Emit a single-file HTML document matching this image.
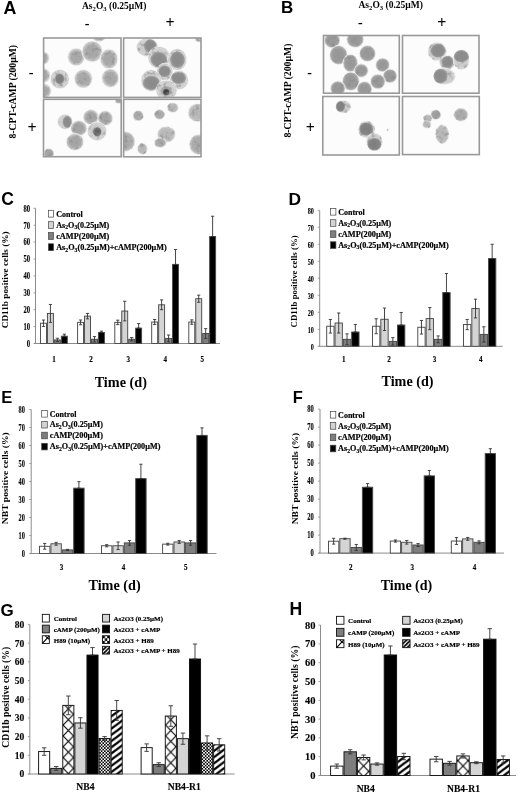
<!DOCTYPE html><html><head><meta charset="utf-8"><style>html,body{margin:0;padding:0;background:#fff;}svg{display:block;will-change:transform;}</style></head><body>
<svg width="520" height="793" viewBox="0 0 520 793">
<defs>
<pattern id="pcross" patternUnits="userSpaceOnUse" width="10" height="10.5" x="62.1" y="725.75"><rect width="10" height="10.5" fill="#fff"/><path d="M0 0L10 10.5M10 0L0 10.5" stroke="#000" stroke-width="1.1"/></pattern>
<pattern id="pcheck" patternUnits="userSpaceOnUse" width="3.2" height="3.2"><rect width="3.2" height="3.2" fill="#fff"/><rect width="1.6" height="1.6" fill="#000"/><rect x="1.6" y="1.6" width="1.6" height="1.6" fill="#000"/></pattern>
<pattern id="pdiag" patternUnits="userSpaceOnUse" width="8.27" height="6.2"><rect width="8.27" height="6.2" fill="#fff"/><path d="M-2 7.7L10.27 -1.5M-2 1.5L10.27 -7.7M-2 13.9L10.27 4.7" stroke="#000" stroke-width="2.3"/></pattern>
<radialGradient id="gc1"><stop offset="0" stop-color="#8c8c8c"/><stop offset="0.75" stop-color="#9a9a9a"/><stop offset="1" stop-color="#c4c4c4"/></radialGradient>
<radialGradient id="gc2"><stop offset="0" stop-color="#7a7a7a"/><stop offset="0.75" stop-color="#8a8a8a"/><stop offset="1" stop-color="#b8b8b8"/></radialGradient>
<radialGradient id="gc3"><stop offset="0" stop-color="#a8a8a8"/><stop offset="0.75" stop-color="#b4b4b4"/><stop offset="1" stop-color="#d8d8d8"/></radialGradient>
<radialGradient id="gc4"><stop offset="0" stop-color="#c0c0c0"/><stop offset="0.7" stop-color="#c8c8c8"/><stop offset="1" stop-color="#e4e4e4"/></radialGradient>
</defs>
<rect width="520" height="793" fill="#fff"/>
<defs><radialGradient id="g_u1"><stop offset="0" stop-color="#a6a6a6"/><stop offset="0.72" stop-color="#ababab"/><stop offset="1" stop-color="#cbcbcb"/></radialGradient><radialGradient id="g_u3"><stop offset="0" stop-color="#a2a2a2"/><stop offset="0.72" stop-color="#a8a8a8"/><stop offset="1" stop-color="#c8c8c8"/></radialGradient><radialGradient id="g_u4"><stop offset="0" stop-color="#b2b2b2"/><stop offset="0.72" stop-color="#b8b8b8"/><stop offset="1" stop-color="#d6d6d6"/></radialGradient><radialGradient id="g_ub"><stop offset="0" stop-color="#979797"/><stop offset="0.72" stop-color="#9b9b9b"/><stop offset="1" stop-color="#ababab"/></radialGradient><radialGradient id="g_cy"><stop offset="0" stop-color="#cacaca"/><stop offset="0.72" stop-color="#cdcdcd"/><stop offset="1" stop-color="#dcdcdc"/></radialGradient><radialGradient id="g_cyb"><stop offset="0" stop-color="#c4c4c4"/><stop offset="0.72" stop-color="#c8c8c8"/><stop offset="1" stop-color="#d8d8d8"/></radialGradient><radialGradient id="g_n1"><stop offset="0" stop-color="#8a8a8a"/><stop offset="0.72" stop-color="#8e8e8e"/><stop offset="1" stop-color="#a4a4a4"/></radialGradient><radialGradient id="g_n2"><stop offset="0" stop-color="#7c7c7c"/><stop offset="0.72" stop-color="#828282"/><stop offset="1" stop-color="#9c9c9c"/></radialGradient><radialGradient id="g_n3"><stop offset="0" stop-color="#606060"/><stop offset="0.72" stop-color="#686868"/><stop offset="1" stop-color="#888888"/></radialGradient><radialGradient id="g_n4"><stop offset="0" stop-color="#3a3a3a"/><stop offset="0.72" stop-color="#4a4a4a"/><stop offset="1" stop-color="#7a7a7a"/></radialGradient><radialGradient id="g_l1"><stop offset="0" stop-color="#9c9c9c"/><stop offset="0.72" stop-color="#a4a4a4"/><stop offset="1" stop-color="#c6c6c6"/></radialGradient><radialGradient id="g_l2"><stop offset="0" stop-color="#b6b6b6"/><stop offset="0.72" stop-color="#bcbcbc"/><stop offset="1" stop-color="#d8d8d8"/></radialGradient><radialGradient id="g_l3"><stop offset="0" stop-color="#a8a8a8"/><stop offset="0.72" stop-color="#aeaeae"/><stop offset="1" stop-color="#cecece"/></radialGradient><filter id="soft" x="-5%" y="-5%" width="110%" height="110%"><feGaussianBlur stdDeviation="0.45"/></filter><filter id="grain" filterUnits="userSpaceOnUse" x="0" y="0" width="520" height="170"><feTurbulence type="fractalNoise" baseFrequency="0.25" numOctaves="2" seed="11" result="t"/><feColorMatrix in="t" type="matrix" values="0 0 0 0 0.25  0 0 0 0 0.25  0 0 0 0 0.25  0 0 0 2.0 -0.98" result="d"/><feComposite in="d" in2="SourceGraphic" operator="in" result="c"/><feGaussianBlur in="c" stdDeviation="0.35"/></filter></defs>
<rect x="43.6" y="38" width="77.4" height="59.4" fill="#fcfcfc"/>
<clipPath id="cA1"><rect x="43.6" y="38" width="77.4" height="59.4"/></clipPath>
<g clip-path="url(#cA1)"><g filter="url(#soft)">
<ellipse cx="76.2" cy="57" rx="8.5" ry="8.9" fill="#cbcbcb" stroke="#f6f6f6" stroke-width="0.8"/>
<ellipse cx="76.2" cy="57" rx="7.2" ry="7.6" fill="url(#g_u1)"/>
<ellipse cx="92.2" cy="51.5" rx="10.3" ry="10.6" fill="#cbcbcb" stroke="#f6f6f6" stroke-width="0.8"/>
<ellipse cx="92.2" cy="51.5" rx="9" ry="9.3" fill="url(#g_u1)"/>
<ellipse cx="109" cy="59" rx="8.9" ry="9.9" fill="#cbcbcb" stroke="#f6f6f6" stroke-width="0.8"/>
<ellipse cx="109" cy="59" rx="7.6" ry="8.6" fill="url(#g_u1)"/>
<ellipse cx="59.8" cy="79.1" rx="9.5" ry="9.6" fill="#cbcbcb" stroke="#f6f6f6" stroke-width="0.8"/>
<ellipse cx="59.8" cy="79.1" rx="8.2" ry="8.3" fill="url(#g_cy)"/>
<ellipse cx="59.6" cy="78.8" rx="4.6" ry="5.4" fill="url(#g_n2)"/>
<ellipse cx="83.3" cy="78.8" rx="9.1" ry="9.3" fill="#cbcbcb" stroke="#f6f6f6" stroke-width="0.8"/>
<ellipse cx="83.3" cy="78.8" rx="7.8" ry="8" fill="url(#g_u1)"/>
<ellipse cx="110.3" cy="78.1" rx="8.6" ry="9.3" fill="#cbcbcb" stroke="#f6f6f6" stroke-width="0.8"/>
<ellipse cx="110.3" cy="78.1" rx="7.3" ry="8" fill="url(#g_u1)"/>
<ellipse cx="44" cy="58" rx="5.3" ry="6.3" fill="#cbcbcb" stroke="#f6f6f6" stroke-width="0.8"/>
<ellipse cx="44" cy="58" rx="4" ry="5" fill="url(#g_u1)"/>
<ellipse cx="43" cy="75.5" rx="7.3" ry="7.3" fill="#cbcbcb" stroke="#f6f6f6" stroke-width="0.8"/>
<ellipse cx="43" cy="75.5" rx="6" ry="6" fill="url(#g_u1)"/>
<ellipse cx="44" cy="91" rx="7.3" ry="7.3" fill="#cbcbcb" stroke="#f6f6f6" stroke-width="0.8"/>
<ellipse cx="44" cy="91" rx="6" ry="6" fill="url(#g_u1)"/>
<ellipse cx="99" cy="37.5" rx="6.3" ry="4.3" fill="#cbcbcb" stroke="#f6f6f6" stroke-width="0.8"/>
<ellipse cx="99" cy="37.5" rx="5" ry="3" fill="url(#g_u1)"/>
</g>
<g filter="url(#grain)">
<ellipse cx="76.2" cy="57" rx="7.2" ry="7.6" fill="#fff"/>
<ellipse cx="92.2" cy="51.5" rx="9" ry="9.3" fill="#fff"/>
<ellipse cx="109" cy="59" rx="7.6" ry="8.6" fill="#fff"/>
<ellipse cx="59.8" cy="79.1" rx="8.2" ry="8.3" fill="#fff"/>
<ellipse cx="83.3" cy="78.8" rx="7.8" ry="8" fill="#fff"/>
<ellipse cx="110.3" cy="78.1" rx="7.3" ry="8" fill="#fff"/>
<ellipse cx="44" cy="58" rx="4" ry="5" fill="#fff"/>
<ellipse cx="43" cy="75.5" rx="6" ry="6" fill="#fff"/>
<ellipse cx="44" cy="91" rx="6" ry="6" fill="#fff"/>
<ellipse cx="99" cy="37.5" rx="5" ry="3" fill="#fff"/>
</g>
</g>
<rect x="43.6" y="38" width="77.4" height="59.4" fill="none" stroke="#999" stroke-width="1.6"/>
<rect x="123.6" y="38" width="77.4" height="59.4" fill="#fcfcfc"/>
<clipPath id="cA2"><rect x="123.6" y="38" width="77.4" height="59.4"/></clipPath>
<g clip-path="url(#cA2)"><g filter="url(#soft)">
<ellipse cx="147.3" cy="47.3" rx="10.8" ry="9.2" fill="#c6c6c6" stroke="#f6f6f6" stroke-width="0.8"/>
<ellipse cx="147.3" cy="47.3" rx="9.8" ry="8.2" fill="url(#g_cy)"/>
<ellipse cx="150.4" cy="46.2" rx="6.3" ry="6.8" fill="url(#g_n1)"/>
<ellipse cx="159" cy="57.5" rx="11" ry="11" fill="#c6c6c6" stroke="#f6f6f6" stroke-width="0.8"/>
<ellipse cx="159" cy="57.5" rx="10" ry="10" fill="url(#g_cy)"/>
<ellipse cx="158.8" cy="59.5" rx="8.3" ry="7.5" fill="url(#g_n1)"/>
<ellipse cx="177.2" cy="59.5" rx="9.5" ry="10.8" fill="#c6c6c6" stroke="#f6f6f6" stroke-width="0.8"/>
<ellipse cx="177.2" cy="59.5" rx="8.5" ry="9.8" fill="url(#g_cy)"/>
<ellipse cx="177.5" cy="59.8" rx="7.3" ry="8.3" fill="url(#g_n1)"/>
<ellipse cx="164.8" cy="72" rx="8.2" ry="8.8" fill="#c6c6c6" stroke="#f6f6f6" stroke-width="0.8"/>
<ellipse cx="164.8" cy="72" rx="7.2" ry="7.8" fill="url(#g_cy)"/>
<ellipse cx="164.6" cy="71.3" rx="6.2" ry="5.8" fill="url(#g_n1)"/>
<ellipse cx="151.2" cy="80.5" rx="10.2" ry="10.8" fill="#c6c6c6" stroke="#f6f6f6" stroke-width="0.8"/>
<ellipse cx="151.2" cy="80.5" rx="9.2" ry="9.8" fill="url(#g_cy)"/>
<ellipse cx="151.4" cy="83" rx="8.6" ry="7.2" fill="url(#g_n1)"/>
<ellipse cx="179" cy="80" rx="9.3" ry="9.5" fill="#c6c6c6" stroke="#f6f6f6" stroke-width="0.8"/>
<ellipse cx="179" cy="80" rx="8.3" ry="8.5" fill="url(#g_cy)"/>
<ellipse cx="178.6" cy="78" rx="7.4" ry="6" fill="url(#g_n1)"/>
<ellipse cx="166.5" cy="90" rx="10.6" ry="9.8" fill="#c6c6c6" stroke="#f6f6f6" stroke-width="0.8"/>
<ellipse cx="166.5" cy="90" rx="9.6" ry="8.8" fill="url(#g_cy)"/>
<ellipse cx="166.3" cy="91" rx="6.2" ry="5.2" fill="url(#g_l1)"/>
<ellipse cx="166.2" cy="92" rx="3.3" ry="3.3" fill="url(#g_n4)"/>
<ellipse cx="199" cy="39" rx="4" ry="3" fill="url(#g_l2)" stroke="#f4f4f4" stroke-width="0.7"/>
</g>
<g filter="url(#grain)">
<ellipse cx="147.3" cy="47.3" rx="9.8" ry="8.2" fill="#fff"/>
<ellipse cx="159" cy="57.5" rx="10" ry="10" fill="#fff"/>
<ellipse cx="177.2" cy="59.5" rx="8.5" ry="9.8" fill="#fff"/>
<ellipse cx="164.8" cy="72" rx="7.2" ry="7.8" fill="#fff"/>
<ellipse cx="151.2" cy="80.5" rx="9.2" ry="9.8" fill="#fff"/>
<ellipse cx="179" cy="80" rx="8.3" ry="8.5" fill="#fff"/>
<ellipse cx="166.5" cy="90" rx="9.6" ry="8.8" fill="#fff"/>
<ellipse cx="199" cy="39" rx="4" ry="3" fill="#fff"/>
</g>
</g>
<rect x="123.6" y="38" width="77.4" height="59.4" fill="none" stroke="#999" stroke-width="1.6"/>
<rect x="43.5" y="99.3" width="77.7" height="57.4" fill="#fcfcfc"/>
<clipPath id="cA3"><rect x="43.5" y="99.3" width="77.7" height="57.4"/></clipPath>
<g clip-path="url(#cA3)"><g filter="url(#soft)">
<ellipse cx="65.1" cy="121.8" rx="7.5" ry="7.5" fill="#c6c6c6" stroke="#f6f6f6" stroke-width="0.8"/>
<ellipse cx="65.1" cy="121.8" rx="6.5" ry="6.5" fill="url(#g_cy)"/>
<ellipse cx="67.2" cy="122" rx="4.5" ry="6" fill="url(#g_n1)"/>
<ellipse cx="78.8" cy="128.3" rx="8.2" ry="7.8" fill="#c6c6c6" stroke="#f6f6f6" stroke-width="0.8"/>
<ellipse cx="78.8" cy="128.3" rx="7.2" ry="6.8" fill="url(#g_u3)"/>
<ellipse cx="90.9" cy="117.2" rx="7.8" ry="7.6" fill="#c6c6c6" stroke="#f6f6f6" stroke-width="0.8"/>
<ellipse cx="90.9" cy="117.2" rx="6.8" ry="6.6" fill="url(#g_u3)"/>
<ellipse cx="105.3" cy="118.2" rx="7.6" ry="7.4" fill="#c6c6c6" stroke="#f6f6f6" stroke-width="0.8"/>
<ellipse cx="105.3" cy="118.2" rx="6.6" ry="6.4" fill="url(#g_u3)"/>
<ellipse cx="97" cy="131.2" rx="9.6" ry="9.2" fill="#c6c6c6" stroke="#f6f6f6" stroke-width="0.8"/>
<ellipse cx="97" cy="131.2" rx="8.6" ry="8.2" fill="url(#g_cy)"/>
<ellipse cx="97.2" cy="131.8" rx="4.2" ry="4.6" fill="url(#g_n3)"/>
<ellipse cx="74.9" cy="142" rx="8.8" ry="8.4" fill="#c6c6c6" stroke="#f6f6f6" stroke-width="0.8"/>
<ellipse cx="74.9" cy="142" rx="7.8" ry="7.4" fill="url(#g_u3)"/>
<ellipse cx="49" cy="153.5" rx="5" ry="5" fill="url(#g_u3)" stroke="#f4f4f4" stroke-width="0.7"/>
<ellipse cx="119" cy="101" rx="4" ry="2.5" fill="url(#g_u3)" stroke="#f4f4f4" stroke-width="0.7"/>
</g>
<g filter="url(#grain)">
<ellipse cx="65.1" cy="121.8" rx="6.5" ry="6.5" fill="#fff"/>
<ellipse cx="78.8" cy="128.3" rx="7.2" ry="6.8" fill="#fff"/>
<ellipse cx="90.9" cy="117.2" rx="6.8" ry="6.6" fill="#fff"/>
<ellipse cx="105.3" cy="118.2" rx="6.6" ry="6.4" fill="#fff"/>
<ellipse cx="97" cy="131.2" rx="8.6" ry="8.2" fill="#fff"/>
<ellipse cx="74.9" cy="142" rx="7.8" ry="7.4" fill="#fff"/>
<ellipse cx="49" cy="153.5" rx="5" ry="5" fill="#fff"/>
<ellipse cx="119" cy="101" rx="4" ry="2.5" fill="#fff"/>
</g>
</g>
<rect x="43.5" y="99.3" width="77.7" height="57.4" fill="none" stroke="#999" stroke-width="1.6"/>
<rect x="123.6" y="99.3" width="77.4" height="57.5" fill="#fcfcfc"/>
<clipPath id="cA4"><rect x="123.6" y="99.3" width="77.4" height="57.5"/></clipPath>
<g clip-path="url(#cA4)"><g filter="url(#soft)">
<ellipse cx="138.2" cy="115.7" rx="5.3" ry="5.3" fill="url(#g_l3)" stroke="#f4f4f4" stroke-width="0.7"/>
<ellipse cx="159.5" cy="114.5" rx="5.3" ry="5" fill="url(#g_l3)" stroke="#f4f4f4" stroke-width="0.7"/>
<ellipse cx="172.8" cy="107.7" rx="5.7" ry="5" fill="url(#g_l2)" stroke="#f4f4f4" stroke-width="0.7"/>
<ellipse cx="166.3" cy="134.4" rx="9.1" ry="8" fill="url(#g_l2)" stroke="#f4f4f4" stroke-width="0.7"/>
<ellipse cx="160.3" cy="142.7" rx="6" ry="4.9" fill="url(#g_l3)" stroke="#f4f4f4" stroke-width="0.7"/>
<ellipse cx="142.4" cy="148.8" rx="5" ry="5.7" fill="url(#g_l2)" stroke="#f4f4f4" stroke-width="0.7"/>
<ellipse cx="197" cy="112.7" rx="9" ry="9" fill="url(#g_l2)" stroke="#f4f4f4" stroke-width="0.7"/>
<ellipse cx="198.5" cy="144.6" rx="9" ry="10" fill="url(#g_l3)" stroke="#f4f4f4" stroke-width="0.7"/>
<ellipse cx="125" cy="141.5" rx="10" ry="10" fill="url(#g_l3)" stroke="#f4f4f4" stroke-width="0.7"/>
</g>
<g filter="url(#grain)">
<ellipse cx="138.2" cy="115.7" rx="5.3" ry="5.3" fill="#fff"/>
<ellipse cx="159.5" cy="114.5" rx="5.3" ry="5" fill="#fff"/>
<ellipse cx="172.8" cy="107.7" rx="5.7" ry="5" fill="#fff"/>
<ellipse cx="166.3" cy="134.4" rx="9.1" ry="8" fill="#fff"/>
<ellipse cx="160.3" cy="142.7" rx="6" ry="4.9" fill="#fff"/>
<ellipse cx="142.4" cy="148.8" rx="5" ry="5.7" fill="#fff"/>
<ellipse cx="197" cy="112.7" rx="9" ry="9" fill="#fff"/>
<ellipse cx="198.5" cy="144.6" rx="9" ry="10" fill="#fff"/>
<ellipse cx="125" cy="141.5" rx="10" ry="10" fill="#fff"/>
</g>
</g>
<rect x="123.6" y="99.3" width="77.4" height="57.5" fill="none" stroke="#999" stroke-width="1.6"/>
<rect x="323.5" y="35.5" width="75.8" height="57.7" fill="#fcfcfc"/>
<clipPath id="cB1"><rect x="323.5" y="35.5" width="75.8" height="57.7"/></clipPath>
<g clip-path="url(#cB1)"><g filter="url(#soft)">
<ellipse cx="332.2" cy="40.5" rx="7.9" ry="7.5" fill="#bababa" stroke="#f6f6f6" stroke-width="0.8"/>
<ellipse cx="332.2" cy="40.5" rx="6.8" ry="6.4" fill="url(#g_ub)"/>
<ellipse cx="355.2" cy="39.5" rx="8.6" ry="8.1" fill="#bababa" stroke="#f6f6f6" stroke-width="0.8"/>
<ellipse cx="355.2" cy="39.5" rx="7.5" ry="7" fill="url(#g_ub)"/>
<ellipse cx="338.5" cy="55" rx="9" ry="9.7" fill="#bababa" stroke="#f6f6f6" stroke-width="0.8"/>
<ellipse cx="338.5" cy="55" rx="7.9" ry="8.6" fill="url(#g_ub)"/>
<ellipse cx="367.5" cy="53.5" rx="8.2" ry="8.2" fill="#bababa" stroke="#f6f6f6" stroke-width="0.8"/>
<ellipse cx="367.5" cy="53.5" rx="7.1" ry="7.1" fill="url(#g_ub)"/>
<ellipse cx="350.4" cy="63.2" rx="7.5" ry="9" fill="#bababa" stroke="#f6f6f6" stroke-width="0.8"/>
<ellipse cx="350.4" cy="63.2" rx="6.4" ry="7.9" fill="url(#g_ub)"/>
<ellipse cx="361.2" cy="70.6" rx="7.1" ry="6.8" fill="#bababa" stroke="#f6f6f6" stroke-width="0.8"/>
<ellipse cx="361.2" cy="70.6" rx="6" ry="5.7" fill="url(#g_ub)"/>
<ellipse cx="382.6" cy="65" rx="7.1" ry="7.1" fill="#bababa" stroke="#f6f6f6" stroke-width="0.8"/>
<ellipse cx="382.6" cy="65" rx="6" ry="6" fill="url(#g_ub)"/>
<ellipse cx="390" cy="76" rx="7.1" ry="7.1" fill="#bababa" stroke="#f6f6f6" stroke-width="0.8"/>
<ellipse cx="390" cy="76" rx="6" ry="6" fill="url(#g_ub)"/>
<ellipse cx="377.8" cy="81.6" rx="7.5" ry="7.5" fill="#bababa" stroke="#f6f6f6" stroke-width="0.8"/>
<ellipse cx="377.8" cy="81.6" rx="6.4" ry="6.4" fill="url(#g_ub)"/>
<ellipse cx="350.8" cy="81.3" rx="8.6" ry="9.4" fill="#bababa" stroke="#f6f6f6" stroke-width="0.8"/>
<ellipse cx="350.8" cy="81.3" rx="7.5" ry="8.3" fill="url(#g_ub)"/>
<ellipse cx="337.8" cy="88.5" rx="7.5" ry="7.6" fill="#bababa" stroke="#f6f6f6" stroke-width="0.8"/>
<ellipse cx="337.8" cy="88.5" rx="6.4" ry="6.5" fill="url(#g_ub)"/>
<ellipse cx="364.5" cy="89" rx="7.6" ry="7.6" fill="#bababa" stroke="#f6f6f6" stroke-width="0.8"/>
<ellipse cx="364.5" cy="89" rx="6.5" ry="6.5" fill="url(#g_ub)"/>
</g>
<g filter="url(#grain)">
<ellipse cx="332.2" cy="40.5" rx="6.8" ry="6.4" fill="#fff"/>
<ellipse cx="355.2" cy="39.5" rx="7.5" ry="7" fill="#fff"/>
<ellipse cx="338.5" cy="55" rx="7.9" ry="8.6" fill="#fff"/>
<ellipse cx="367.5" cy="53.5" rx="7.1" ry="7.1" fill="#fff"/>
<ellipse cx="350.4" cy="63.2" rx="6.4" ry="7.9" fill="#fff"/>
<ellipse cx="361.2" cy="70.6" rx="6" ry="5.7" fill="#fff"/>
<ellipse cx="382.6" cy="65" rx="6" ry="6" fill="#fff"/>
<ellipse cx="390" cy="76" rx="6" ry="6" fill="#fff"/>
<ellipse cx="377.8" cy="81.6" rx="6.4" ry="6.4" fill="#fff"/>
<ellipse cx="350.8" cy="81.3" rx="7.5" ry="8.3" fill="#fff"/>
<ellipse cx="337.8" cy="88.5" rx="6.4" ry="6.5" fill="#fff"/>
<ellipse cx="364.5" cy="89" rx="6.5" ry="6.5" fill="#fff"/>
</g>
</g>
<rect x="323.5" y="35.5" width="75.8" height="57.7" fill="none" stroke="#999" stroke-width="1.6"/>
<rect x="402.5" y="35.5" width="76.5" height="57.7" fill="#fcfcfc"/>
<clipPath id="cB2"><rect x="402.5" y="35.5" width="76.5" height="57.7"/></clipPath>
<g clip-path="url(#cB2)"><g filter="url(#soft)">
<ellipse cx="437.2" cy="51.5" rx="9.3" ry="9.3" fill="url(#g_cy)" stroke="#f4f4f4" stroke-width="0.7"/>
<ellipse cx="438" cy="50.7" rx="7.4" ry="6.9" fill="url(#g_n1)"/>
<ellipse cx="447.3" cy="62.6" rx="7.7" ry="7.1" fill="url(#g_cyb)" stroke="#f4f4f4" stroke-width="0.7"/>
<ellipse cx="447.5" cy="62" rx="6" ry="6" fill="url(#g_n1)"/>
<ellipse cx="461.3" cy="59.7" rx="8" ry="10" fill="url(#g_cy)" stroke="#f4f4f4" stroke-width="0.7"/>
<ellipse cx="461.3" cy="56.2" rx="7.4" ry="6.1" fill="url(#g_n1)"/>
<ellipse cx="444.3" cy="76.4" rx="11" ry="8.2" fill="url(#g_cy)" stroke="#f4f4f4" stroke-width="0.7"/>
<ellipse cx="440.6" cy="76.1" rx="6.9" ry="7.4" fill="url(#g_n1)"/>
</g>
<g filter="url(#grain)">
<ellipse cx="437.2" cy="51.5" rx="9.3" ry="9.3" fill="#fff"/>
<ellipse cx="447.3" cy="62.6" rx="7.7" ry="7.1" fill="#fff"/>
<ellipse cx="461.3" cy="59.7" rx="8" ry="10" fill="#fff"/>
<ellipse cx="444.3" cy="76.4" rx="11" ry="8.2" fill="#fff"/>
</g>
</g>
<rect x="402.5" y="35.5" width="76.5" height="57.7" fill="none" stroke="#999" stroke-width="1.6"/>
<rect x="322.8" y="96.5" width="76.5" height="58.5" fill="#fcfcfc"/>
<clipPath id="cB3"><rect x="322.8" y="96.5" width="76.5" height="58.5"/></clipPath>
<g clip-path="url(#cB3)"><g filter="url(#soft)">
<ellipse cx="343.4" cy="106.8" rx="7.8" ry="6.3" fill="url(#g_cy)" stroke="#f4f4f4" stroke-width="0.7"/>
<ellipse cx="340.5" cy="106.4" rx="4.5" ry="5.3" fill="url(#g_n2)"/>
<ellipse cx="366.6" cy="129.6" rx="8.5" ry="8.5" fill="url(#g_cy)" stroke="#f4f4f4" stroke-width="0.7"/>
<ellipse cx="366.2" cy="129" rx="6.9" ry="6.6" fill="url(#g_n2)"/>
<ellipse cx="374.4" cy="141.8" rx="8.1" ry="8.8" fill="url(#g_cy)" stroke="#f4f4f4" stroke-width="0.7"/>
<ellipse cx="374.4" cy="144.3" rx="6.9" ry="6.3" fill="url(#g_n2)"/>
<ellipse cx="387.5" cy="129.9" rx="0.9" ry="0.9" fill="url(#g_n2)" stroke="#f4f4f4" stroke-width="0.7"/>
</g>
<g filter="url(#grain)">
<ellipse cx="343.4" cy="106.8" rx="7.8" ry="6.3" fill="#fff"/>
<ellipse cx="366.6" cy="129.6" rx="8.5" ry="8.5" fill="#fff"/>
<ellipse cx="374.4" cy="141.8" rx="8.1" ry="8.8" fill="#fff"/>
<ellipse cx="387.5" cy="129.9" rx="0.9" ry="0.9" fill="#fff"/>
</g>
</g>
<rect x="322.8" y="96.5" width="76.5" height="58.5" fill="none" stroke="#999" stroke-width="1.6"/>
<rect x="402.5" y="96.5" width="76.8" height="58.1" fill="#fcfcfc"/>
<clipPath id="cB4"><rect x="402.5" y="96.5" width="76.8" height="58.1"/></clipPath>
<g clip-path="url(#cB4)"><g filter="url(#soft)">
<ellipse cx="435.8" cy="114.7" rx="5.2" ry="4.9" fill="url(#g_l1)" stroke="#f4f4f4" stroke-width="0.7"/>
<ellipse cx="427.7" cy="118.5" rx="4.6" ry="4" fill="url(#g_l2)" stroke="#f4f4f4" stroke-width="0.7"/>
<ellipse cx="426.8" cy="124.5" rx="4.3" ry="3.7" fill="url(#g_l2)" stroke="#f4f4f4" stroke-width="0.7"/>
<ellipse cx="460.9" cy="114.7" rx="7.2" ry="6.6" fill="url(#g_l3)" stroke="#f4f4f4" stroke-width="0.7"/>
<ellipse cx="442.1" cy="134.3" rx="6.9" ry="9.5" fill="url(#g_l2)" stroke="#f4f4f4" stroke-width="0.7"/>
</g>
<g filter="url(#grain)">
<ellipse cx="435.8" cy="114.7" rx="5.2" ry="4.9" fill="#fff"/>
<ellipse cx="427.7" cy="118.5" rx="4.6" ry="4" fill="#fff"/>
<ellipse cx="426.8" cy="124.5" rx="4.3" ry="3.7" fill="#fff"/>
<ellipse cx="460.9" cy="114.7" rx="7.2" ry="6.6" fill="#fff"/>
<ellipse cx="442.1" cy="134.3" rx="6.9" ry="9.5" fill="#fff"/>
</g>
</g>
<rect x="402.5" y="96.5" width="76.8" height="58.1" fill="none" stroke="#999" stroke-width="1.6"/>
<text x="3.4" y="13.8" font-family='"Liberation Sans", sans-serif' font-size="17.8" font-weight="bold" text-anchor="start" fill="#000" >A</text>
<text x="280.9" y="13.3" font-family='"Liberation Sans", sans-serif' font-size="17" font-weight="bold" text-anchor="start" fill="#000" >B</text>
<text x="82" y="9" font-family='"Liberation Serif", serif' font-size="9.5" font-weight="bold">As<tspan font-size="6.65" dy="2">2</tspan><tspan dy="-2">O</tspan><tspan font-size="6.65" dy="2">3</tspan><tspan dy="-2"> (0.25µM)</tspan></text>
<text x="358.5" y="7.6" font-family='"Liberation Serif", serif' font-size="9.5" font-weight="bold">As<tspan font-size="6.65" dy="2">2</tspan><tspan dy="-2">O</tspan><tspan font-size="6.65" dy="2">3</tspan><tspan dy="-2"> (0.25µM)</tspan></text>
<text x="87.2" y="27.5" font-family='"Liberation Serif", serif' font-size="14" font-weight="bold" text-anchor="middle" fill="#000" >-</text>
<text x="170" y="27.9" font-family='"Liberation Serif", serif' font-size="16" font-weight="bold" text-anchor="middle" fill="#000" >+</text>
<text x="360.4" y="26.8" font-family='"Liberation Serif", serif' font-size="14" font-weight="bold" text-anchor="middle" fill="#000" >-</text>
<text x="441.8" y="28.3" font-family='"Liberation Serif", serif' font-size="16" font-weight="bold" text-anchor="middle" fill="#000" >+</text>
<text transform="translate(12.8,91.7) rotate(-90)" x="0" y="3.32" font-family='"Liberation Serif", serif' font-size="9.5" font-weight="bold" text-anchor="middle" textLength="93.5" lengthAdjust="spacingAndGlyphs">8-CPT-cAMP (200µM)</text>
<text transform="translate(288,90.6) rotate(-90)" x="0" y="3.32" font-family='"Liberation Serif", serif' font-size="9.5" font-weight="bold" text-anchor="middle" textLength="94" lengthAdjust="spacingAndGlyphs">8-CPT-cAMP (200µM)</text>
<text x="31.1" y="77.1" font-family='"Liberation Serif", serif' font-size="14.5" font-weight="bold" text-anchor="middle" fill="#000" >-</text>
<text x="32.1" y="132.6" font-family='"Liberation Serif", serif' font-size="16" font-weight="bold" text-anchor="middle" fill="#000" >+</text>
<text x="309.5" y="77" font-family='"Liberation Serif", serif' font-size="14" font-weight="bold" text-anchor="middle" fill="#000" >-</text>
<text x="310.4" y="132.8" font-family='"Liberation Serif", serif' font-size="16" font-weight="bold" text-anchor="middle" fill="#000" >+</text>
<text x="1.2" y="204.5" font-family='"Liberation Sans", sans-serif' font-size="17.5" font-weight="bold" text-anchor="start" fill="#000" >C</text>
<line x1="35.5" y1="208.3" x2="35.5" y2="343.5" stroke="#8c8c8c" stroke-width="1"/>
<line x1="34" y1="343.5" x2="220" y2="343.5" stroke="#8c8c8c" stroke-width="1"/>
<line x1="33.5" y1="343.5" x2="35.5" y2="343.5" stroke="#8c8c8c" stroke-width="0.8"/>
<text x="30" y="346.8" font-family='"Liberation Serif", serif' font-size="9.5" font-weight="bold" text-anchor="end" fill="#000" textLength="3.3" lengthAdjust="spacingAndGlyphs" stroke="#000" stroke-width="0.12" >0</text>
<line x1="33.5" y1="326.6" x2="35.5" y2="326.6" stroke="#8c8c8c" stroke-width="0.8"/>
<text x="30" y="329.9" font-family='"Liberation Serif", serif' font-size="9.5" font-weight="bold" text-anchor="end" fill="#000" textLength="6.6" lengthAdjust="spacingAndGlyphs" stroke="#000" stroke-width="0.12" >10</text>
<line x1="33.5" y1="309.7" x2="35.5" y2="309.7" stroke="#8c8c8c" stroke-width="0.8"/>
<text x="30" y="313" font-family='"Liberation Serif", serif' font-size="9.5" font-weight="bold" text-anchor="end" fill="#000" textLength="6.6" lengthAdjust="spacingAndGlyphs" stroke="#000" stroke-width="0.12" >20</text>
<line x1="33.5" y1="292.8" x2="35.5" y2="292.8" stroke="#8c8c8c" stroke-width="0.8"/>
<text x="30" y="296.1" font-family='"Liberation Serif", serif' font-size="9.5" font-weight="bold" text-anchor="end" fill="#000" textLength="6.6" lengthAdjust="spacingAndGlyphs" stroke="#000" stroke-width="0.12" >30</text>
<line x1="33.5" y1="275.9" x2="35.5" y2="275.9" stroke="#8c8c8c" stroke-width="0.8"/>
<text x="30" y="279.2" font-family='"Liberation Serif", serif' font-size="9.5" font-weight="bold" text-anchor="end" fill="#000" textLength="6.6" lengthAdjust="spacingAndGlyphs" stroke="#000" stroke-width="0.12" >40</text>
<line x1="33.5" y1="259" x2="35.5" y2="259" stroke="#8c8c8c" stroke-width="0.8"/>
<text x="30" y="262.3" font-family='"Liberation Serif", serif' font-size="9.5" font-weight="bold" text-anchor="end" fill="#000" textLength="6.6" lengthAdjust="spacingAndGlyphs" stroke="#000" stroke-width="0.12" >50</text>
<line x1="33.5" y1="242.1" x2="35.5" y2="242.1" stroke="#8c8c8c" stroke-width="0.8"/>
<text x="30" y="245.4" font-family='"Liberation Serif", serif' font-size="9.5" font-weight="bold" text-anchor="end" fill="#000" textLength="6.6" lengthAdjust="spacingAndGlyphs" stroke="#000" stroke-width="0.12" >60</text>
<line x1="33.5" y1="225.2" x2="35.5" y2="225.2" stroke="#8c8c8c" stroke-width="0.8"/>
<text x="30" y="228.5" font-family='"Liberation Serif", serif' font-size="9.5" font-weight="bold" text-anchor="end" fill="#000" textLength="6.6" lengthAdjust="spacingAndGlyphs" stroke="#000" stroke-width="0.12" >70</text>
<line x1="33.5" y1="208.3" x2="35.5" y2="208.3" stroke="#8c8c8c" stroke-width="0.8"/>
<text x="30" y="211.6" font-family='"Liberation Serif", serif' font-size="9.5" font-weight="bold" text-anchor="end" fill="#000" textLength="6.6" lengthAdjust="spacingAndGlyphs" stroke="#000" stroke-width="0.12" >80</text>
<rect x="40.5" y="323.22" width="5.95" height="20.28" fill="#ffffff" stroke="#4a4a4a" stroke-width="0.95"/>
<path d="M43.48 320.01V326.43M41.88 320.01H45.08M41.88 326.43H45.08" stroke="#333" stroke-width="0.9" fill="none"/>
<rect x="47.45" y="313.42" width="5.95" height="30.08" fill="#d4d4d4" stroke="#4a4a4a" stroke-width="0.95"/>
<path d="M50.43 304.46V322.38M48.83 304.46H52.03M48.83 322.38H52.03" stroke="#333" stroke-width="0.9" fill="none"/>
<rect x="54.4" y="339.95" width="5.95" height="3.55" fill="#7e7e7e" stroke="#4a4a4a" stroke-width="0.95"/>
<path d="M57.38 338.26V341.64M55.77 338.26H58.98M55.77 341.64H58.98" stroke="#333" stroke-width="0.9" fill="none"/>
<rect x="61.35" y="336.23" width="5.95" height="7.27" fill="#000000" stroke="#4a4a4a" stroke-width="0.95"/>
<path d="M64.33 334.2V336.23M62.73 334.2H65.92M62.73 336.23H65.92" stroke="#333" stroke-width="0.9" fill="none"/>
<rect x="77.6" y="322.38" width="5.95" height="21.12" fill="#ffffff" stroke="#4a4a4a" stroke-width="0.95"/>
<path d="M80.57 320.01V324.74M78.97 320.01H82.17M78.97 324.74H82.17" stroke="#333" stroke-width="0.9" fill="none"/>
<rect x="84.55" y="316.12" width="5.95" height="27.38" fill="#d4d4d4" stroke="#4a4a4a" stroke-width="0.95"/>
<path d="M87.52 313.42V318.83M85.92 313.42H89.12M85.92 318.83H89.12" stroke="#333" stroke-width="0.9" fill="none"/>
<rect x="91.5" y="339.27" width="5.95" height="4.22" fill="#7e7e7e" stroke="#4a4a4a" stroke-width="0.95"/>
<path d="M94.47 336.57V341.98M92.88 336.57H96.07M92.88 341.98H96.07" stroke="#333" stroke-width="0.9" fill="none"/>
<rect x="98.45" y="332.51" width="5.95" height="10.98" fill="#000000" stroke="#4a4a4a" stroke-width="0.95"/>
<path d="M101.42 331.16V332.51M99.82 331.16H103.02M99.82 332.51H103.02" stroke="#333" stroke-width="0.9" fill="none"/>
<rect x="114.8" y="322.38" width="5.95" height="21.12" fill="#ffffff" stroke="#4a4a4a" stroke-width="0.95"/>
<path d="M117.77 320.18V324.57M116.17 320.18H119.37M116.17 324.57H119.37" stroke="#333" stroke-width="0.9" fill="none"/>
<rect x="121.75" y="311.05" width="5.95" height="32.45" fill="#d4d4d4" stroke="#4a4a4a" stroke-width="0.95"/>
<path d="M124.72 301.25V320.85M123.12 301.25H126.32M123.12 320.85H126.32" stroke="#333" stroke-width="0.9" fill="none"/>
<rect x="128.7" y="339.27" width="5.95" height="4.22" fill="#7e7e7e" stroke="#4a4a4a" stroke-width="0.95"/>
<path d="M131.67 337.58V340.96M130.07 337.58H133.27M130.07 340.96H133.27" stroke="#333" stroke-width="0.9" fill="none"/>
<rect x="135.65" y="328.12" width="5.95" height="15.38" fill="#000000" stroke="#4a4a4a" stroke-width="0.95"/>
<path d="M138.62 323.56V328.12M137.03 323.56H140.22M137.03 328.12H140.22" stroke="#333" stroke-width="0.9" fill="none"/>
<rect x="151.7" y="322.04" width="5.95" height="21.46" fill="#ffffff" stroke="#4a4a4a" stroke-width="0.95"/>
<path d="M154.67 319.5V324.57M153.07 319.5H156.27M153.07 324.57H156.27" stroke="#333" stroke-width="0.9" fill="none"/>
<rect x="158.65" y="304.8" width="5.95" height="38.7" fill="#d4d4d4" stroke="#4a4a4a" stroke-width="0.95"/>
<path d="M161.62 299.9V309.7M160.02 299.9H163.22M160.02 309.7H163.22" stroke="#333" stroke-width="0.9" fill="none"/>
<rect x="165.6" y="338.43" width="5.95" height="5.07" fill="#7e7e7e" stroke="#4a4a4a" stroke-width="0.95"/>
<path d="M168.57 335.05V341.81M166.97 335.05H170.17M166.97 341.81H170.17" stroke="#333" stroke-width="0.9" fill="none"/>
<rect x="172.55" y="264.41" width="5.95" height="79.09" fill="#000000" stroke="#4a4a4a" stroke-width="0.95"/>
<path d="M175.52 249.54V264.41M173.92 249.54H177.12M173.92 264.41H177.12" stroke="#333" stroke-width="0.9" fill="none"/>
<rect x="188.8" y="322.04" width="5.95" height="21.46" fill="#ffffff" stroke="#4a4a4a" stroke-width="0.95"/>
<path d="M191.78 319.84V324.23M190.18 319.84H193.38M190.18 324.23H193.38" stroke="#333" stroke-width="0.9" fill="none"/>
<rect x="195.75" y="298.72" width="5.95" height="44.78" fill="#d4d4d4" stroke="#4a4a4a" stroke-width="0.95"/>
<path d="M198.72 295.17V302.26M197.12 295.17H200.32M197.12 302.26H200.32" stroke="#333" stroke-width="0.9" fill="none"/>
<rect x="202.7" y="333.53" width="5.95" height="9.97" fill="#7e7e7e" stroke="#4a4a4a" stroke-width="0.95"/>
<path d="M205.68 328.63V338.43M204.08 328.63H207.28M204.08 338.43H207.28" stroke="#333" stroke-width="0.9" fill="none"/>
<rect x="209.65" y="236.52" width="5.95" height="106.98" fill="#000000" stroke="#4a4a4a" stroke-width="0.95"/>
<path d="M212.62 216.24V236.52M211.03 216.24H214.22M211.03 236.52H214.22" stroke="#333" stroke-width="0.9" fill="none"/>
<rect x="48.5" y="210.3" width="5" height="6.8" fill="#ffffff" stroke="#444" stroke-width="0.7"/>
<rect x="48.5" y="221.7" width="5" height="6.8" fill="#d4d4d4" stroke="#444" stroke-width="0.7"/>
<rect x="48.5" y="232.6" width="5" height="6.8" fill="#7e7e7e" stroke="#444" stroke-width="0.7"/>
<rect x="48.5" y="243.8" width="5" height="6.8" fill="#000000" stroke="#444" stroke-width="0.7"/>
<text x="56.2" y="216.5" font-family='"Liberation Serif", serif' font-size="8" font-weight="bold" stroke="#000" stroke-width="0.18" textLength="26.6" lengthAdjust="spacingAndGlyphs">Control</text>
<text x="56.2" y="227.9" font-family='"Liberation Serif", serif' font-size="8" font-weight="bold" stroke="#000" stroke-width="0.18" textLength="53.1" lengthAdjust="spacingAndGlyphs">As<tspan font-size="5.6" dy="1.5">2</tspan><tspan dy="-1.5">O</tspan><tspan font-size="5.6" dy="1.5">3</tspan><tspan dy="-1.5">(0.25µM)</tspan></text>
<text x="56.2" y="238.8" font-family='"Liberation Serif", serif' font-size="8" font-weight="bold" stroke="#000" stroke-width="0.18" textLength="53.1" lengthAdjust="spacingAndGlyphs">cAMP(200µM)</text>
<text x="56.2" y="250" font-family='"Liberation Serif", serif' font-size="8" font-weight="bold" stroke="#000" stroke-width="0.18" textLength="110.6" lengthAdjust="spacingAndGlyphs">As<tspan font-size="5.6" dy="1.5">2</tspan><tspan dy="-1.5">O</tspan><tspan font-size="5.6" dy="1.5">3</tspan><tspan dy="-1.5">(0.25µM)+cAMP(200µM)</tspan></text>
<text transform="translate(4.7,279.8) rotate(-90)" x="0" y="3.22" font-family='"Liberation Serif", serif' font-size="9.2" font-weight="bold" text-anchor="middle" textLength="97" lengthAdjust="spacingAndGlyphs">CD11b positive cells (%)</text>
<text x="54" y="362.2" font-family='"Liberation Serif", serif' font-size="8.5" font-weight="bold" text-anchor="middle" fill="#000" textLength="3.5" lengthAdjust="spacingAndGlyphs" stroke="#000" stroke-width="0.18" >1</text>
<text x="91" y="362.2" font-family='"Liberation Serif", serif' font-size="8.5" font-weight="bold" text-anchor="middle" fill="#000" textLength="3.5" lengthAdjust="spacingAndGlyphs" stroke="#000" stroke-width="0.18" >2</text>
<text x="128.3" y="362.2" font-family='"Liberation Serif", serif' font-size="8.5" font-weight="bold" text-anchor="middle" fill="#000" textLength="3.5" lengthAdjust="spacingAndGlyphs" stroke="#000" stroke-width="0.18" >3</text>
<text x="165.2" y="362.2" font-family='"Liberation Serif", serif' font-size="8.5" font-weight="bold" text-anchor="middle" fill="#000" textLength="3.5" lengthAdjust="spacingAndGlyphs" stroke="#000" stroke-width="0.18" >4</text>
<text x="202.3" y="362.2" font-family='"Liberation Serif", serif' font-size="8.5" font-weight="bold" text-anchor="middle" fill="#000" textLength="3.5" lengthAdjust="spacingAndGlyphs" stroke="#000" stroke-width="0.18" >5</text>
<text x="120.8" y="386.5" font-family='"Liberation Serif", serif' font-size="14" font-weight="bold" text-anchor="middle" fill="#000" textLength="52.3" lengthAdjust="spacingAndGlyphs" >Time (d)</text>
<text x="288.4" y="205" font-family='"Liberation Sans", sans-serif' font-size="17.4" font-weight="bold" text-anchor="start" fill="#000" >D</text>
<line x1="319.7" y1="210.3" x2="319.7" y2="346.3" stroke="#8c8c8c" stroke-width="1"/>
<line x1="318.2" y1="346.3" x2="502.7" y2="346.3" stroke="#8c8c8c" stroke-width="1"/>
<line x1="317.7" y1="346.3" x2="319.7" y2="346.3" stroke="#8c8c8c" stroke-width="0.8"/>
<text x="313.9" y="349.9" font-family='"Liberation Serif", serif' font-size="9" font-weight="bold" text-anchor="end" fill="#000" textLength="3.05" lengthAdjust="spacingAndGlyphs" stroke="#000" stroke-width="0.12" >0</text>
<line x1="317.7" y1="329.3" x2="319.7" y2="329.3" stroke="#8c8c8c" stroke-width="0.8"/>
<text x="313.9" y="332.9" font-family='"Liberation Serif", serif' font-size="9" font-weight="bold" text-anchor="end" fill="#000" textLength="6.1" lengthAdjust="spacingAndGlyphs" stroke="#000" stroke-width="0.12" >10</text>
<line x1="317.7" y1="312.3" x2="319.7" y2="312.3" stroke="#8c8c8c" stroke-width="0.8"/>
<text x="313.9" y="315.9" font-family='"Liberation Serif", serif' font-size="9" font-weight="bold" text-anchor="end" fill="#000" textLength="6.1" lengthAdjust="spacingAndGlyphs" stroke="#000" stroke-width="0.12" >20</text>
<line x1="317.7" y1="295.3" x2="319.7" y2="295.3" stroke="#8c8c8c" stroke-width="0.8"/>
<text x="313.9" y="298.9" font-family='"Liberation Serif", serif' font-size="9" font-weight="bold" text-anchor="end" fill="#000" textLength="6.1" lengthAdjust="spacingAndGlyphs" stroke="#000" stroke-width="0.12" >30</text>
<line x1="317.7" y1="278.3" x2="319.7" y2="278.3" stroke="#8c8c8c" stroke-width="0.8"/>
<text x="313.9" y="281.9" font-family='"Liberation Serif", serif' font-size="9" font-weight="bold" text-anchor="end" fill="#000" textLength="6.1" lengthAdjust="spacingAndGlyphs" stroke="#000" stroke-width="0.12" >40</text>
<line x1="317.7" y1="261.3" x2="319.7" y2="261.3" stroke="#8c8c8c" stroke-width="0.8"/>
<text x="313.9" y="264.9" font-family='"Liberation Serif", serif' font-size="9" font-weight="bold" text-anchor="end" fill="#000" textLength="6.1" lengthAdjust="spacingAndGlyphs" stroke="#000" stroke-width="0.12" >50</text>
<line x1="317.7" y1="244.3" x2="319.7" y2="244.3" stroke="#8c8c8c" stroke-width="0.8"/>
<text x="313.9" y="247.9" font-family='"Liberation Serif", serif' font-size="9" font-weight="bold" text-anchor="end" fill="#000" textLength="6.1" lengthAdjust="spacingAndGlyphs" stroke="#000" stroke-width="0.12" >60</text>
<line x1="317.7" y1="227.3" x2="319.7" y2="227.3" stroke="#8c8c8c" stroke-width="0.8"/>
<text x="313.9" y="230.9" font-family='"Liberation Serif", serif' font-size="9" font-weight="bold" text-anchor="end" fill="#000" textLength="6.1" lengthAdjust="spacingAndGlyphs" stroke="#000" stroke-width="0.12" >70</text>
<line x1="317.7" y1="210.3" x2="319.7" y2="210.3" stroke="#8c8c8c" stroke-width="0.8"/>
<text x="313.9" y="213.9" font-family='"Liberation Serif", serif' font-size="9" font-weight="bold" text-anchor="end" fill="#000" textLength="6.1" lengthAdjust="spacingAndGlyphs" stroke="#000" stroke-width="0.12" >80</text>
<rect x="326.7" y="326.24" width="7.33" height="20.06" fill="#ffffff" stroke="#4a4a4a" stroke-width="0.95"/>
<path d="M330.37 319.44V333.04M328.76 319.44H331.97M328.76 333.04H331.97" stroke="#333" stroke-width="0.9" fill="none"/>
<rect x="335.03" y="323.01" width="7.33" height="23.29" fill="#d4d4d4" stroke="#4a4a4a" stroke-width="0.95"/>
<path d="M338.69 312.98V333.04M337.09 312.98H340.3M337.09 333.04H340.3" stroke="#333" stroke-width="0.9" fill="none"/>
<rect x="343.36" y="339.33" width="7.33" height="6.97" fill="#7e7e7e" stroke="#4a4a4a" stroke-width="0.95"/>
<path d="M347.03 333.89V344.77M345.43 333.89H348.63M345.43 344.77H348.63" stroke="#333" stroke-width="0.9" fill="none"/>
<rect x="351.69" y="332.02" width="7.33" height="14.28" fill="#000000" stroke="#4a4a4a" stroke-width="0.95"/>
<path d="M355.36 324.54V332.02M353.75 324.54H356.96M353.75 332.02H356.96" stroke="#333" stroke-width="0.9" fill="none"/>
<rect x="372.5" y="326.24" width="7.33" height="20.06" fill="#ffffff" stroke="#4a4a4a" stroke-width="0.95"/>
<path d="M376.17 318.76V333.72M374.56 318.76H377.77M374.56 333.72H377.77" stroke="#333" stroke-width="0.9" fill="none"/>
<rect x="380.83" y="319.27" width="7.33" height="27.03" fill="#d4d4d4" stroke="#4a4a4a" stroke-width="0.95"/>
<path d="M384.5 308.05V330.49M382.89 308.05H386.1M382.89 330.49H386.1" stroke="#333" stroke-width="0.9" fill="none"/>
<rect x="389.16" y="341.37" width="7.33" height="4.93" fill="#7e7e7e" stroke="#4a4a4a" stroke-width="0.95"/>
<path d="M392.83 337.63V345.11M391.23 337.63H394.43M391.23 345.11H394.43" stroke="#333" stroke-width="0.9" fill="none"/>
<rect x="397.49" y="325.05" width="7.33" height="21.25" fill="#000000" stroke="#4a4a4a" stroke-width="0.95"/>
<path d="M401.16 312.47V325.05M399.56 312.47H402.76M399.56 325.05H402.76" stroke="#333" stroke-width="0.9" fill="none"/>
<rect x="417.8" y="327.26" width="7.33" height="19.04" fill="#ffffff" stroke="#4a4a4a" stroke-width="0.95"/>
<path d="M421.47 320.46V334.06M419.87 320.46H423.07M419.87 334.06H423.07" stroke="#333" stroke-width="0.9" fill="none"/>
<rect x="426.13" y="318.59" width="7.33" height="27.71" fill="#d4d4d4" stroke="#4a4a4a" stroke-width="0.95"/>
<path d="M429.8 307.54V329.64M428.19 307.54H431.4M428.19 329.64H431.4" stroke="#333" stroke-width="0.9" fill="none"/>
<rect x="434.46" y="339.33" width="7.33" height="6.97" fill="#7e7e7e" stroke="#4a4a4a" stroke-width="0.95"/>
<path d="M438.13 335.93V342.73M436.53 335.93H439.73M436.53 342.73H439.73" stroke="#333" stroke-width="0.9" fill="none"/>
<rect x="442.79" y="292.58" width="7.33" height="53.72" fill="#000000" stroke="#4a4a4a" stroke-width="0.95"/>
<path d="M446.46 273.54V292.58M444.86 273.54H448.06M444.86 292.58H448.06" stroke="#333" stroke-width="0.9" fill="none"/>
<rect x="463.5" y="324.54" width="7.33" height="21.76" fill="#ffffff" stroke="#4a4a4a" stroke-width="0.95"/>
<path d="M467.17 319.44V329.64M465.56 319.44H468.77M465.56 329.64H468.77" stroke="#333" stroke-width="0.9" fill="none"/>
<rect x="471.83" y="308.56" width="7.33" height="37.74" fill="#d4d4d4" stroke="#4a4a4a" stroke-width="0.95"/>
<path d="M475.5 299.21V317.91M473.89 299.21H477.1M473.89 317.91H477.1" stroke="#333" stroke-width="0.9" fill="none"/>
<rect x="480.16" y="334.4" width="7.33" height="11.9" fill="#7e7e7e" stroke="#4a4a4a" stroke-width="0.95"/>
<path d="M483.83 326.75V342.05M482.23 326.75H485.43M482.23 342.05H485.43" stroke="#333" stroke-width="0.9" fill="none"/>
<rect x="488.49" y="258.58" width="7.33" height="87.72" fill="#000000" stroke="#4a4a4a" stroke-width="0.95"/>
<path d="M492.16 244.3V258.58M490.56 244.3H493.76M490.56 258.58H493.76" stroke="#333" stroke-width="0.9" fill="none"/>
<rect x="330.6" y="208.5" width="5.3" height="6.6" fill="#ffffff" stroke="#444" stroke-width="0.7"/>
<rect x="330.6" y="219.7" width="5.3" height="6.6" fill="#d4d4d4" stroke="#444" stroke-width="0.7"/>
<rect x="330.6" y="230.8" width="5.3" height="6.6" fill="#7e7e7e" stroke="#444" stroke-width="0.7"/>
<rect x="330.6" y="241.8" width="5.3" height="6.6" fill="#000000" stroke="#444" stroke-width="0.7"/>
<text x="338.2" y="214.5" font-family='"Liberation Serif", serif' font-size="8" font-weight="bold" stroke="#000" stroke-width="0.18" textLength="26.6" lengthAdjust="spacingAndGlyphs">Control</text>
<text x="338.2" y="225.7" font-family='"Liberation Serif", serif' font-size="8" font-weight="bold" stroke="#000" stroke-width="0.18" textLength="53.1" lengthAdjust="spacingAndGlyphs">As<tspan font-size="5.6" dy="1.5">2</tspan><tspan dy="-1.5">O</tspan><tspan font-size="5.6" dy="1.5">3</tspan><tspan dy="-1.5">(0.25µM)</tspan></text>
<text x="338.2" y="236.8" font-family='"Liberation Serif", serif' font-size="8" font-weight="bold" stroke="#000" stroke-width="0.18" textLength="53.1" lengthAdjust="spacingAndGlyphs">cAMP(200µM)</text>
<text x="338.2" y="247.8" font-family='"Liberation Serif", serif' font-size="8" font-weight="bold" stroke="#000" stroke-width="0.18" textLength="110.6" lengthAdjust="spacingAndGlyphs">As<tspan font-size="5.6" dy="1.5">2</tspan><tspan dy="-1.5">O</tspan><tspan font-size="5.6" dy="1.5">3</tspan><tspan dy="-1.5">(0.25µM)+cAMP(200µM)</tspan></text>
<text transform="translate(294.4,281.4) rotate(-90)" x="0" y="3.08" font-family='"Liberation Serif", serif' font-size="8.8" font-weight="bold" text-anchor="middle" textLength="92" lengthAdjust="spacingAndGlyphs">CD11b positive cells (%)</text>
<text x="343.8" y="362" font-family='"Liberation Serif", serif' font-size="8.5" font-weight="bold" text-anchor="middle" fill="#000" textLength="3.5" lengthAdjust="spacingAndGlyphs" stroke="#000" stroke-width="0.18" >1</text>
<text x="389" y="362" font-family='"Liberation Serif", serif' font-size="8.5" font-weight="bold" text-anchor="middle" fill="#000" textLength="3.5" lengthAdjust="spacingAndGlyphs" stroke="#000" stroke-width="0.18" >2</text>
<text x="434.6" y="362" font-family='"Liberation Serif", serif' font-size="8.5" font-weight="bold" text-anchor="middle" fill="#000" textLength="3.5" lengthAdjust="spacingAndGlyphs" stroke="#000" stroke-width="0.18" >3</text>
<text x="480.8" y="362" font-family='"Liberation Serif", serif' font-size="8.5" font-weight="bold" text-anchor="middle" fill="#000" textLength="3.5" lengthAdjust="spacingAndGlyphs" stroke="#000" stroke-width="0.18" >4</text>
<text x="407.5" y="386" font-family='"Liberation Serif", serif' font-size="14" font-weight="bold" text-anchor="middle" fill="#000" textLength="52" lengthAdjust="spacingAndGlyphs" >Time (d)</text>
<text x="1.2" y="402.9" font-family='"Liberation Sans", sans-serif' font-size="16.5" font-weight="bold" text-anchor="start" fill="#000" >E</text>
<line x1="31.2" y1="409.5" x2="31.2" y2="553.5" stroke="#8c8c8c" stroke-width="1"/>
<line x1="29.7" y1="553.5" x2="216.5" y2="553.5" stroke="#8c8c8c" stroke-width="1"/>
<line x1="29.2" y1="553.5" x2="31.2" y2="553.5" stroke="#8c8c8c" stroke-width="0.8"/>
<text x="24.8" y="556.6" font-family='"Liberation Serif", serif' font-size="9.5" font-weight="bold" text-anchor="end" fill="#000" textLength="3.15" lengthAdjust="spacingAndGlyphs" stroke="#000" stroke-width="0.12" >0</text>
<line x1="29.2" y1="535.5" x2="31.2" y2="535.5" stroke="#8c8c8c" stroke-width="0.8"/>
<text x="24.8" y="538.6" font-family='"Liberation Serif", serif' font-size="9.5" font-weight="bold" text-anchor="end" fill="#000" textLength="6.3" lengthAdjust="spacingAndGlyphs" stroke="#000" stroke-width="0.12" >10</text>
<line x1="29.2" y1="517.5" x2="31.2" y2="517.5" stroke="#8c8c8c" stroke-width="0.8"/>
<text x="24.8" y="520.6" font-family='"Liberation Serif", serif' font-size="9.5" font-weight="bold" text-anchor="end" fill="#000" textLength="6.3" lengthAdjust="spacingAndGlyphs" stroke="#000" stroke-width="0.12" >20</text>
<line x1="29.2" y1="499.5" x2="31.2" y2="499.5" stroke="#8c8c8c" stroke-width="0.8"/>
<text x="24.8" y="502.6" font-family='"Liberation Serif", serif' font-size="9.5" font-weight="bold" text-anchor="end" fill="#000" textLength="6.3" lengthAdjust="spacingAndGlyphs" stroke="#000" stroke-width="0.12" >30</text>
<line x1="29.2" y1="481.5" x2="31.2" y2="481.5" stroke="#8c8c8c" stroke-width="0.8"/>
<text x="24.8" y="484.6" font-family='"Liberation Serif", serif' font-size="9.5" font-weight="bold" text-anchor="end" fill="#000" textLength="6.3" lengthAdjust="spacingAndGlyphs" stroke="#000" stroke-width="0.12" >40</text>
<line x1="29.2" y1="463.5" x2="31.2" y2="463.5" stroke="#8c8c8c" stroke-width="0.8"/>
<text x="24.8" y="466.6" font-family='"Liberation Serif", serif' font-size="9.5" font-weight="bold" text-anchor="end" fill="#000" textLength="6.3" lengthAdjust="spacingAndGlyphs" stroke="#000" stroke-width="0.12" >50</text>
<line x1="29.2" y1="445.5" x2="31.2" y2="445.5" stroke="#8c8c8c" stroke-width="0.8"/>
<text x="24.8" y="448.6" font-family='"Liberation Serif", serif' font-size="9.5" font-weight="bold" text-anchor="end" fill="#000" textLength="6.3" lengthAdjust="spacingAndGlyphs" stroke="#000" stroke-width="0.12" >60</text>
<line x1="29.2" y1="427.5" x2="31.2" y2="427.5" stroke="#8c8c8c" stroke-width="0.8"/>
<text x="24.8" y="430.6" font-family='"Liberation Serif", serif' font-size="9.5" font-weight="bold" text-anchor="end" fill="#000" textLength="6.3" lengthAdjust="spacingAndGlyphs" stroke="#000" stroke-width="0.12" >70</text>
<line x1="29.2" y1="409.5" x2="31.2" y2="409.5" stroke="#8c8c8c" stroke-width="0.8"/>
<text x="24.8" y="412.6" font-family='"Liberation Serif", serif' font-size="9.5" font-weight="bold" text-anchor="end" fill="#000" textLength="6.3" lengthAdjust="spacingAndGlyphs" stroke="#000" stroke-width="0.12" >80</text>
<rect x="39.5" y="546.3" width="10.4" height="7.2" fill="#ffffff" stroke="#4a4a4a" stroke-width="0.95"/>
<path d="M44.7 543.42V549.18M43.1 543.42H46.3M43.1 549.18H46.3" stroke="#333" stroke-width="0.9" fill="none"/>
<rect x="50.9" y="543.78" width="10.4" height="9.72" fill="#d4d4d4" stroke="#4a4a4a" stroke-width="0.95"/>
<path d="M56.1 542.34V545.22M54.5 542.34H57.7M54.5 545.22H57.7" stroke="#333" stroke-width="0.9" fill="none"/>
<rect x="62.3" y="549.9" width="10.4" height="3.6" fill="#7e7e7e" stroke="#4a4a4a" stroke-width="0.95"/>
<path d="M67.5 549.36V550.44M65.9 549.36H69.1M65.9 550.44H69.1" stroke="#333" stroke-width="0.9" fill="none"/>
<rect x="73.7" y="488.16" width="10.4" height="65.34" fill="#000000" stroke="#4a4a4a" stroke-width="0.95"/>
<path d="M78.9 481.68V488.16M77.3 481.68H80.5M77.3 488.16H80.5" stroke="#333" stroke-width="0.9" fill="none"/>
<rect x="101.5" y="545.76" width="10.4" height="7.74" fill="#ffffff" stroke="#4a4a4a" stroke-width="0.95"/>
<path d="M106.7 544.68V546.84M105.1 544.68H108.3M105.1 546.84H108.3" stroke="#333" stroke-width="0.9" fill="none"/>
<rect x="112.9" y="545.76" width="10.4" height="7.74" fill="#d4d4d4" stroke="#4a4a4a" stroke-width="0.95"/>
<path d="M118.1 541.98V549.54M116.5 541.98H119.7M116.5 549.54H119.7" stroke="#333" stroke-width="0.9" fill="none"/>
<rect x="124.3" y="542.88" width="10.4" height="10.62" fill="#7e7e7e" stroke="#4a4a4a" stroke-width="0.95"/>
<path d="M129.5 540.54V545.22M127.9 540.54H131.1M127.9 545.22H131.1" stroke="#333" stroke-width="0.9" fill="none"/>
<rect x="135.7" y="478.62" width="10.4" height="74.88" fill="#000000" stroke="#4a4a4a" stroke-width="0.95"/>
<path d="M140.9 464.22V478.62M139.3 464.22H142.5M139.3 478.62H142.5" stroke="#333" stroke-width="0.9" fill="none"/>
<rect x="162.6" y="544.14" width="10.4" height="9.36" fill="#ffffff" stroke="#4a4a4a" stroke-width="0.95"/>
<path d="M167.8 543.24V545.04M166.2 543.24H169.4M166.2 545.04H169.4" stroke="#333" stroke-width="0.9" fill="none"/>
<rect x="174" y="541.98" width="10.4" height="11.52" fill="#d4d4d4" stroke="#4a4a4a" stroke-width="0.95"/>
<path d="M179.2 540.54V543.42M177.6 540.54H180.8M177.6 543.42H180.8" stroke="#333" stroke-width="0.9" fill="none"/>
<rect x="185.4" y="542.88" width="10.4" height="10.62" fill="#7e7e7e" stroke="#4a4a4a" stroke-width="0.95"/>
<path d="M190.6 540.54V545.22M189 540.54H192.2M189 545.22H192.2" stroke="#333" stroke-width="0.9" fill="none"/>
<rect x="196.8" y="435.42" width="10.4" height="118.08" fill="#000000" stroke="#4a4a4a" stroke-width="0.95"/>
<path d="M202 427.86V435.42M200.4 427.86H203.6M200.4 435.42H203.6" stroke="#333" stroke-width="0.9" fill="none"/>
<rect x="41.7" y="410.5" width="5.6" height="6.6" fill="#ffffff" stroke="#444" stroke-width="0.7"/>
<rect x="41.7" y="421.4" width="5.6" height="6.6" fill="#d4d4d4" stroke="#444" stroke-width="0.7"/>
<rect x="41.7" y="432.2" width="5.6" height="6.6" fill="#7e7e7e" stroke="#444" stroke-width="0.7"/>
<rect x="41.7" y="443.3" width="5.6" height="6.6" fill="#000000" stroke="#444" stroke-width="0.7"/>
<text x="49.8" y="416.5" font-family='"Liberation Serif", serif' font-size="8" font-weight="bold" stroke="#000" stroke-width="0.18" textLength="26.6" lengthAdjust="spacingAndGlyphs">Control</text>
<text x="49.8" y="427.4" font-family='"Liberation Serif", serif' font-size="8" font-weight="bold" stroke="#000" stroke-width="0.18" textLength="53.1" lengthAdjust="spacingAndGlyphs">As<tspan font-size="5.6" dy="1.5">2</tspan><tspan dy="-1.5">O</tspan><tspan font-size="5.6" dy="1.5">3</tspan><tspan dy="-1.5">(0.25µM)</tspan></text>
<text x="49.8" y="438.2" font-family='"Liberation Serif", serif' font-size="8" font-weight="bold" stroke="#000" stroke-width="0.18" textLength="53.1" lengthAdjust="spacingAndGlyphs">cAMP(200µM)</text>
<text x="49.8" y="449.3" font-family='"Liberation Serif", serif' font-size="8" font-weight="bold" stroke="#000" stroke-width="0.18" textLength="110.6" lengthAdjust="spacingAndGlyphs">As<tspan font-size="5.6" dy="1.5">2</tspan><tspan dy="-1.5">O</tspan><tspan font-size="5.6" dy="1.5">3</tspan><tspan dy="-1.5">(0.25µM)+cAMP(200µM)</tspan></text>
<text transform="translate(4.5,478.2) rotate(-90)" x="0" y="3.22" font-family='"Liberation Serif", serif' font-size="9.2" font-weight="bold" text-anchor="middle" textLength="92" lengthAdjust="spacingAndGlyphs">NBT positive cells (%)</text>
<text x="61.5" y="570.2" font-family='"Liberation Serif", serif' font-size="8.5" font-weight="bold" text-anchor="middle" fill="#000" textLength="3.5" lengthAdjust="spacingAndGlyphs" stroke="#000" stroke-width="0.18" >3</text>
<text x="123.5" y="570.2" font-family='"Liberation Serif", serif' font-size="8.5" font-weight="bold" text-anchor="middle" fill="#000" textLength="3.5" lengthAdjust="spacingAndGlyphs" stroke="#000" stroke-width="0.18" >4</text>
<text x="185.8" y="570.2" font-family='"Liberation Serif", serif' font-size="8.5" font-weight="bold" text-anchor="middle" fill="#000" textLength="3.5" lengthAdjust="spacingAndGlyphs" stroke="#000" stroke-width="0.18" >5</text>
<text x="114.6" y="589.6" font-family='"Liberation Serif", serif' font-size="14" font-weight="bold" text-anchor="middle" fill="#000" textLength="52.3" lengthAdjust="spacingAndGlyphs" >Time (d)</text>
<text x="292.8" y="402.9" font-family='"Liberation Sans", sans-serif' font-size="16.5" font-weight="bold" text-anchor="start" fill="#000" >F</text>
<line x1="320" y1="409.1" x2="320" y2="553.1" stroke="#8c8c8c" stroke-width="1"/>
<line x1="318.5" y1="553.1" x2="504" y2="553.1" stroke="#8c8c8c" stroke-width="1"/>
<line x1="318" y1="553.1" x2="320" y2="553.1" stroke="#8c8c8c" stroke-width="0.8"/>
<text x="313.8" y="556" font-family='"Liberation Serif", serif' font-size="9.7" font-weight="bold" text-anchor="end" fill="#000" textLength="3.25" lengthAdjust="spacingAndGlyphs" stroke="#000" stroke-width="0.12" >0</text>
<line x1="318" y1="535.1" x2="320" y2="535.1" stroke="#8c8c8c" stroke-width="0.8"/>
<text x="313.8" y="538" font-family='"Liberation Serif", serif' font-size="9.7" font-weight="bold" text-anchor="end" fill="#000" textLength="6.5" lengthAdjust="spacingAndGlyphs" stroke="#000" stroke-width="0.12" >10</text>
<line x1="318" y1="517.1" x2="320" y2="517.1" stroke="#8c8c8c" stroke-width="0.8"/>
<text x="313.8" y="520" font-family='"Liberation Serif", serif' font-size="9.7" font-weight="bold" text-anchor="end" fill="#000" textLength="6.5" lengthAdjust="spacingAndGlyphs" stroke="#000" stroke-width="0.12" >20</text>
<line x1="318" y1="499.1" x2="320" y2="499.1" stroke="#8c8c8c" stroke-width="0.8"/>
<text x="313.8" y="502" font-family='"Liberation Serif", serif' font-size="9.7" font-weight="bold" text-anchor="end" fill="#000" textLength="6.5" lengthAdjust="spacingAndGlyphs" stroke="#000" stroke-width="0.12" >30</text>
<line x1="318" y1="481.1" x2="320" y2="481.1" stroke="#8c8c8c" stroke-width="0.8"/>
<text x="313.8" y="484" font-family='"Liberation Serif", serif' font-size="9.7" font-weight="bold" text-anchor="end" fill="#000" textLength="6.5" lengthAdjust="spacingAndGlyphs" stroke="#000" stroke-width="0.12" >40</text>
<line x1="318" y1="463.1" x2="320" y2="463.1" stroke="#8c8c8c" stroke-width="0.8"/>
<text x="313.8" y="466" font-family='"Liberation Serif", serif' font-size="9.7" font-weight="bold" text-anchor="end" fill="#000" textLength="6.5" lengthAdjust="spacingAndGlyphs" stroke="#000" stroke-width="0.12" >50</text>
<line x1="318" y1="445.1" x2="320" y2="445.1" stroke="#8c8c8c" stroke-width="0.8"/>
<text x="313.8" y="448" font-family='"Liberation Serif", serif' font-size="9.7" font-weight="bold" text-anchor="end" fill="#000" textLength="6.5" lengthAdjust="spacingAndGlyphs" stroke="#000" stroke-width="0.12" >60</text>
<line x1="318" y1="427.1" x2="320" y2="427.1" stroke="#8c8c8c" stroke-width="0.8"/>
<text x="313.8" y="430" font-family='"Liberation Serif", serif' font-size="9.7" font-weight="bold" text-anchor="end" fill="#000" textLength="6.5" lengthAdjust="spacingAndGlyphs" stroke="#000" stroke-width="0.12" >70</text>
<line x1="318" y1="409.1" x2="320" y2="409.1" stroke="#8c8c8c" stroke-width="0.8"/>
<text x="313.8" y="412" font-family='"Liberation Serif", serif' font-size="9.7" font-weight="bold" text-anchor="end" fill="#000" textLength="6.5" lengthAdjust="spacingAndGlyphs" stroke="#000" stroke-width="0.12" >80</text>
<rect x="328.5" y="541.22" width="10.3" height="11.88" fill="#ffffff" stroke="#4a4a4a" stroke-width="0.95"/>
<path d="M333.65 538.34V544.1M332.05 538.34H335.25M332.05 544.1H335.25" stroke="#333" stroke-width="0.9" fill="none"/>
<rect x="339.8" y="538.7" width="10.3" height="14.4" fill="#d4d4d4" stroke="#4a4a4a" stroke-width="0.95"/>
<path d="M344.95 538.16V539.24M343.35 538.16H346.55M343.35 539.24H346.55" stroke="#333" stroke-width="0.9" fill="none"/>
<rect x="351.1" y="547.52" width="10.3" height="5.58" fill="#7e7e7e" stroke="#4a4a4a" stroke-width="0.95"/>
<path d="M356.25 544.46V550.58M354.65 544.46H357.85M354.65 550.58H357.85" stroke="#333" stroke-width="0.9" fill="none"/>
<rect x="362.4" y="487.22" width="10.3" height="65.88" fill="#000000" stroke="#4a4a4a" stroke-width="0.95"/>
<path d="M367.55 483.62V487.22M365.95 483.62H369.15M365.95 487.22H369.15" stroke="#333" stroke-width="0.9" fill="none"/>
<rect x="390.3" y="541.04" width="10.3" height="12.06" fill="#ffffff" stroke="#4a4a4a" stroke-width="0.95"/>
<path d="M395.45 539.96V542.12M393.85 539.96H397.05M393.85 542.12H397.05" stroke="#333" stroke-width="0.9" fill="none"/>
<rect x="401.6" y="542.3" width="10.3" height="10.8" fill="#d4d4d4" stroke="#4a4a4a" stroke-width="0.95"/>
<path d="M406.75 540.5V544.1M405.15 540.5H408.35M405.15 544.1H408.35" stroke="#333" stroke-width="0.9" fill="none"/>
<rect x="412.9" y="545" width="10.3" height="8.1" fill="#7e7e7e" stroke="#4a4a4a" stroke-width="0.95"/>
<path d="M418.05 543.56V546.44M416.45 543.56H419.65M416.45 546.44H419.65" stroke="#333" stroke-width="0.9" fill="none"/>
<rect x="424.2" y="475.88" width="10.3" height="77.22" fill="#000000" stroke="#4a4a4a" stroke-width="0.95"/>
<path d="M429.35 470.48V475.88M427.75 470.48H430.95M427.75 475.88H430.95" stroke="#333" stroke-width="0.9" fill="none"/>
<rect x="451.3" y="541.04" width="10.3" height="12.06" fill="#ffffff" stroke="#4a4a4a" stroke-width="0.95"/>
<path d="M456.45 537.62V544.46M454.85 537.62H458.05M454.85 544.46H458.05" stroke="#333" stroke-width="0.9" fill="none"/>
<rect x="462.6" y="538.88" width="10.3" height="14.22" fill="#d4d4d4" stroke="#4a4a4a" stroke-width="0.95"/>
<path d="M467.75 537.44V540.32M466.15 537.44H469.35M466.15 540.32H469.35" stroke="#333" stroke-width="0.9" fill="none"/>
<rect x="473.9" y="542.3" width="10.3" height="10.8" fill="#7e7e7e" stroke="#4a4a4a" stroke-width="0.95"/>
<path d="M479.05 540.86V543.74M477.45 540.86H480.65M477.45 543.74H480.65" stroke="#333" stroke-width="0.9" fill="none"/>
<rect x="485.2" y="453.56" width="10.3" height="99.54" fill="#000000" stroke="#4a4a4a" stroke-width="0.95"/>
<path d="M490.35 448.7V453.56M488.75 448.7H491.95M488.75 453.56H491.95" stroke="#333" stroke-width="0.9" fill="none"/>
<rect x="330.3" y="411.5" width="5.5" height="6.6" fill="#ffffff" stroke="#444" stroke-width="0.7"/>
<rect x="330.3" y="422.6" width="5.5" height="6.6" fill="#d4d4d4" stroke="#444" stroke-width="0.7"/>
<rect x="330.3" y="434.1" width="5.5" height="6.6" fill="#7e7e7e" stroke="#444" stroke-width="0.7"/>
<rect x="330.3" y="445.2" width="5.5" height="6.6" fill="#000000" stroke="#444" stroke-width="0.7"/>
<text x="338.1" y="417.5" font-family='"Liberation Serif", serif' font-size="8" font-weight="bold" stroke="#000" stroke-width="0.18" textLength="26.6" lengthAdjust="spacingAndGlyphs">Control</text>
<text x="338.1" y="428.6" font-family='"Liberation Serif", serif' font-size="8" font-weight="bold" stroke="#000" stroke-width="0.18" textLength="53.1" lengthAdjust="spacingAndGlyphs">As<tspan font-size="5.6" dy="1.5">2</tspan><tspan dy="-1.5">O</tspan><tspan font-size="5.6" dy="1.5">3</tspan><tspan dy="-1.5">(0.25µM)</tspan></text>
<text x="338.1" y="440.1" font-family='"Liberation Serif", serif' font-size="8" font-weight="bold" stroke="#000" stroke-width="0.18" textLength="53.1" lengthAdjust="spacingAndGlyphs">cAMP(200µM)</text>
<text x="338.1" y="451.2" font-family='"Liberation Serif", serif' font-size="8" font-weight="bold" stroke="#000" stroke-width="0.18" textLength="110.6" lengthAdjust="spacingAndGlyphs">As<tspan font-size="5.6" dy="1.5">2</tspan><tspan dy="-1.5">O</tspan><tspan font-size="5.6" dy="1.5">3</tspan><tspan dy="-1.5">(0.25µM)+cAMP(200µM)</tspan></text>
<text transform="translate(295,478.6) rotate(-90)" x="0" y="3.22" font-family='"Liberation Serif", serif' font-size="9.2" font-weight="bold" text-anchor="middle" textLength="91.5" lengthAdjust="spacingAndGlyphs">NBT positive cells (%)</text>
<text x="350.8" y="570.2" font-family='"Liberation Serif", serif' font-size="8.5" font-weight="bold" text-anchor="middle" fill="#000" textLength="3.5" lengthAdjust="spacingAndGlyphs" stroke="#000" stroke-width="0.18" >2</text>
<text x="412.3" y="570.2" font-family='"Liberation Serif", serif' font-size="8.5" font-weight="bold" text-anchor="middle" fill="#000" textLength="3.5" lengthAdjust="spacingAndGlyphs" stroke="#000" stroke-width="0.18" >3</text>
<text x="474.6" y="570.2" font-family='"Liberation Serif", serif' font-size="8.5" font-weight="bold" text-anchor="middle" fill="#000" textLength="3.5" lengthAdjust="spacingAndGlyphs" stroke="#000" stroke-width="0.18" >4</text>
<text x="406.5" y="589.6" font-family='"Liberation Serif", serif' font-size="14" font-weight="bold" text-anchor="middle" fill="#000" textLength="51.5" lengthAdjust="spacingAndGlyphs" >Time (d)</text>
<text x="0.6" y="615.6" font-family='"Liberation Sans", sans-serif' font-size="17" font-weight="bold" text-anchor="start" fill="#000" >G</text>
<line x1="29.8" y1="624.4" x2="29.8" y2="774" stroke="#8c8c8c" stroke-width="1"/>
<line x1="28.3" y1="774" x2="234.6" y2="774" stroke="#8c8c8c" stroke-width="1"/>
<line x1="27.8" y1="774" x2="29.8" y2="774" stroke="#8c8c8c" stroke-width="0.8"/>
<text x="24.2" y="777.4" font-family='"Liberation Serif", serif' font-size="10" font-weight="bold" text-anchor="end" fill="#000" textLength="4.75" lengthAdjust="spacingAndGlyphs" stroke="#000" stroke-width="0.12" >0</text>
<line x1="27.8" y1="755.3" x2="29.8" y2="755.3" stroke="#8c8c8c" stroke-width="0.8"/>
<text x="24.2" y="758.7" font-family='"Liberation Serif", serif' font-size="10" font-weight="bold" text-anchor="end" fill="#000" textLength="9.5" lengthAdjust="spacingAndGlyphs" stroke="#000" stroke-width="0.12" >10</text>
<line x1="27.8" y1="736.6" x2="29.8" y2="736.6" stroke="#8c8c8c" stroke-width="0.8"/>
<text x="24.2" y="740" font-family='"Liberation Serif", serif' font-size="10" font-weight="bold" text-anchor="end" fill="#000" textLength="9.5" lengthAdjust="spacingAndGlyphs" stroke="#000" stroke-width="0.12" >20</text>
<line x1="27.8" y1="717.9" x2="29.8" y2="717.9" stroke="#8c8c8c" stroke-width="0.8"/>
<text x="24.2" y="721.3" font-family='"Liberation Serif", serif' font-size="10" font-weight="bold" text-anchor="end" fill="#000" textLength="9.5" lengthAdjust="spacingAndGlyphs" stroke="#000" stroke-width="0.12" >30</text>
<line x1="27.8" y1="699.2" x2="29.8" y2="699.2" stroke="#8c8c8c" stroke-width="0.8"/>
<text x="24.2" y="702.6" font-family='"Liberation Serif", serif' font-size="10" font-weight="bold" text-anchor="end" fill="#000" textLength="9.5" lengthAdjust="spacingAndGlyphs" stroke="#000" stroke-width="0.12" >40</text>
<line x1="27.8" y1="680.5" x2="29.8" y2="680.5" stroke="#8c8c8c" stroke-width="0.8"/>
<text x="24.2" y="683.9" font-family='"Liberation Serif", serif' font-size="10" font-weight="bold" text-anchor="end" fill="#000" textLength="9.5" lengthAdjust="spacingAndGlyphs" stroke="#000" stroke-width="0.12" >50</text>
<line x1="27.8" y1="661.8" x2="29.8" y2="661.8" stroke="#8c8c8c" stroke-width="0.8"/>
<text x="24.2" y="665.2" font-family='"Liberation Serif", serif' font-size="10" font-weight="bold" text-anchor="end" fill="#000" textLength="9.5" lengthAdjust="spacingAndGlyphs" stroke="#000" stroke-width="0.12" >60</text>
<line x1="27.8" y1="643.1" x2="29.8" y2="643.1" stroke="#8c8c8c" stroke-width="0.8"/>
<text x="24.2" y="646.5" font-family='"Liberation Serif", serif' font-size="10" font-weight="bold" text-anchor="end" fill="#000" textLength="9.5" lengthAdjust="spacingAndGlyphs" stroke="#000" stroke-width="0.12" >70</text>
<line x1="27.8" y1="624.4" x2="29.8" y2="624.4" stroke="#8c8c8c" stroke-width="0.8"/>
<text x="24.2" y="627.8" font-family='"Liberation Serif", serif' font-size="10" font-weight="bold" text-anchor="end" fill="#000" textLength="9.5" lengthAdjust="spacingAndGlyphs" stroke="#000" stroke-width="0.12" >80</text>
<rect x="38.6" y="751.56" width="11.09" height="22.44" fill="#ffffff" stroke="#111" stroke-width="0.95"/>
<path d="M44.15 747.82V755.3M41.95 747.82H46.35M41.95 755.3H46.35" stroke="#333" stroke-width="0.9" fill="none"/>
<rect x="50.69" y="768.39" width="11.09" height="5.61" fill="#7e7e7e" stroke="#111" stroke-width="0.95"/>
<path d="M56.23 766.52V770.26M54.03 766.52H58.44M54.03 770.26H58.44" stroke="#333" stroke-width="0.9" fill="none"/>
<defs><pattern id="pc622" patternUnits="userSpaceOnUse" width="10.4" height="10.8" x="63.12" y="725.1"><rect width="10.4" height="10.8" fill="#fff"/><path d="M0 0L10.4 10.8M10.4 0L0 10.8" stroke="#000" stroke-width="1.1"/></pattern></defs>
<rect x="62.78" y="705.37" width="11.09" height="68.63" fill="url(#pc622)" stroke="#111" stroke-width="0.95"/>
<path d="M68.33 696.02V714.72M66.12 696.02H70.53M66.12 714.72H70.53" stroke="#333" stroke-width="0.9" fill="none"/>
<rect x="74.87" y="722.95" width="11.09" height="51.05" fill="#d4d4d4" stroke="#111" stroke-width="0.95"/>
<path d="M80.42 717.71V728.18M78.22 717.71H82.62M78.22 728.18H82.62" stroke="#333" stroke-width="0.9" fill="none"/>
<rect x="86.96" y="655.07" width="11.09" height="118.93" fill="#000000" stroke="#111" stroke-width="0.95"/>
<path d="M92.51 647.59V655.07M90.31 647.59H94.71M90.31 655.07H94.71" stroke="#333" stroke-width="0.9" fill="none"/>
<rect x="99.05" y="738.47" width="11.09" height="35.53" fill="url(#pcheck)" stroke="#111" stroke-width="0.95"/>
<path d="M104.6 736.6V740.34M102.4 736.6H106.8M102.4 740.34H106.8" stroke="#333" stroke-width="0.9" fill="none"/>
<rect x="111.14" y="710.42" width="11.09" height="63.58" fill="url(#pdiag)" stroke="#111" stroke-width="0.95"/>
<path d="M116.68 700.51V720.33M114.48 700.51H118.88M114.48 720.33H118.88" stroke="#333" stroke-width="0.9" fill="none"/>
<rect x="141.1" y="747.63" width="11.09" height="26.37" fill="#ffffff" stroke="#111" stroke-width="0.95"/>
<path d="M146.64 743.89V751.37M144.44 743.89H148.84M144.44 751.37H148.84" stroke="#333" stroke-width="0.9" fill="none"/>
<rect x="153.19" y="764.65" width="11.09" height="9.35" fill="#7e7e7e" stroke="#111" stroke-width="0.95"/>
<path d="M158.73 762.78V766.52M156.53 762.78H160.93M156.53 766.52H160.93" stroke="#333" stroke-width="0.9" fill="none"/>
<defs><pattern id="pc1647" patternUnits="userSpaceOnUse" width="10.4" height="10.8" x="165.62" y="725.1"><rect width="10.4" height="10.8" fill="#fff"/><path d="M0 0L10.4 10.8M10.4 0L0 10.8" stroke="#000" stroke-width="1.1"/></pattern></defs>
<rect x="165.28" y="716.03" width="11.09" height="57.97" fill="url(#pc1647)" stroke="#111" stroke-width="0.95"/>
<path d="M170.82 705.75V726.31M168.62 705.75H173.02M168.62 726.31H173.02" stroke="#333" stroke-width="0.9" fill="none"/>
<rect x="177.37" y="738.66" width="11.09" height="35.34" fill="#d4d4d4" stroke="#111" stroke-width="0.95"/>
<path d="M182.91 733.05V744.27M180.72 733.05H185.11M180.72 744.27H185.11" stroke="#333" stroke-width="0.9" fill="none"/>
<rect x="189.46" y="659" width="11.09" height="115.01" fill="#000000" stroke="#111" stroke-width="0.95"/>
<path d="M195 644.03V659M192.8 644.03H197.2M192.8 659H197.2" stroke="#333" stroke-width="0.9" fill="none"/>
<rect x="201.55" y="742.96" width="11.09" height="31.04" fill="url(#pcheck)" stroke="#111" stroke-width="0.95"/>
<path d="M207.09 735.85V750.06M204.9 735.85H209.29M204.9 750.06H209.29" stroke="#333" stroke-width="0.9" fill="none"/>
<rect x="213.64" y="744.83" width="11.09" height="29.17" fill="url(#pdiag)" stroke="#111" stroke-width="0.95"/>
<path d="M219.18 738.66V751M216.98 738.66H221.38M216.98 751H221.38" stroke="#333" stroke-width="0.9" fill="none"/>
<rect x="42.35" y="614.35" width="7" height="7.7" fill="#ffffff" stroke="#111" stroke-width="0.9"/>
<text x="53.7" y="621.2" font-family='"Liberation Serif", serif' font-size="7" font-weight="bold" text-anchor="start" fill="#000" stroke="#000" stroke-width="0.18" >Control</text>
<rect x="42.35" y="625.15" width="7" height="7.7" fill="#7e7e7e" stroke="#111" stroke-width="0.9"/>
<text x="53.7" y="632" font-family='"Liberation Serif", serif' font-size="7" font-weight="bold" text-anchor="start" fill="#000" stroke="#000" stroke-width="0.18" >cAMP (200µM)</text>
<rect x="42.35" y="635.75" width="7" height="7.7" fill="#fff" stroke="#111" stroke-width="0.9"/>
<path d="M42.65 643.15L49.05 636.05M45.5 636.05L49.05 639.22" stroke="#000" stroke-width="1.1"/>
<text x="53.7" y="642.6" font-family='"Liberation Serif", serif' font-size="7" font-weight="bold" text-anchor="start" fill="#000" stroke="#000" stroke-width="0.18" >H89 (10µM)</text>
<rect x="102.55" y="614.35" width="7" height="7.7" fill="#d4d4d4" stroke="#111" stroke-width="0.9"/>
<text x="113.5" y="621.2" font-family='"Liberation Serif", serif' font-size="7" font-weight="bold" text-anchor="start" fill="#000" stroke="#000" stroke-width="0.18" >As2O3 (0.25µM)</text>
<rect x="102.55" y="625.15" width="7" height="7.7" fill="#000000" stroke="#111" stroke-width="0.9"/>
<text x="113.5" y="632" font-family='"Liberation Serif", serif' font-size="7" font-weight="bold" text-anchor="start" fill="#000" stroke="#000" stroke-width="0.18" >As2O3 + cAMP</text>
<defs><pattern id="lp1025_6357" patternUnits="userSpaceOnUse" x="102.55" y="635.75" width="4.67" height="5.13"><rect width="4.67" height="5.13" fill="#fff"/><rect width="2.33" height="2.57" fill="#000"/><rect x="2.33" y="2.57" width="2.33" height="2.57" fill="#000"/></pattern></defs>
<rect x="102.55" y="635.75" width="7" height="7.7" fill="url(#lp1025_6357)" stroke="#111" stroke-width="0.9"/>
<text x="113.5" y="642.6" font-family='"Liberation Serif", serif' font-size="7" font-weight="bold" text-anchor="start" fill="#000" stroke="#000" stroke-width="0.18" >As2O3 + H89</text>
<defs><pattern id="lp1025_6463" patternUnits="userSpaceOnUse" x="102.55" y="646.35" width="4.05" height="4.05"><rect width="4.05" height="4.05" fill="#fff"/><path d="M-1 5.05L5.05 -1M-1 1L1 -1M3.05 5.05L5.05 3.05" stroke="#000" stroke-width="1.62"/></pattern></defs>
<rect x="102.55" y="646.35" width="7" height="7.7" fill="url(#lp1025_6463)" stroke="#111" stroke-width="0.9"/>
<text x="113.5" y="653.2" font-family='"Liberation Serif", serif' font-size="7" font-weight="bold" text-anchor="start" fill="#000" stroke="#000" stroke-width="0.18" >As2O3 + cAMP + H89</text>
<text transform="translate(5.8,697.3) rotate(-90)" x="0" y="3.32" font-family='"Liberation Serif", serif' font-size="9.5" font-weight="bold" text-anchor="middle" textLength="100.8" lengthAdjust="spacingAndGlyphs">CD11b positive cells (%)</text>
<text x="85.4" y="790" font-family='"Liberation Serif", serif' font-size="9.6" font-weight="bold" text-anchor="middle" fill="#000" stroke="#000" stroke-width="0.12" >NB4</text>
<text x="184.3" y="790" font-family='"Liberation Serif", serif' font-size="9.6" font-weight="bold" text-anchor="middle" fill="#000" stroke="#000" stroke-width="0.12" >NB4-R1</text>
<text x="289.6" y="615" font-family='"Liberation Sans", sans-serif' font-size="17.6" font-weight="bold" text-anchor="start" fill="#000" >H</text>
<line x1="320.5" y1="625.1" x2="320.5" y2="775.5" stroke="#8c8c8c" stroke-width="1"/>
<line x1="319" y1="775.5" x2="516" y2="775.5" stroke="#8c8c8c" stroke-width="1"/>
<line x1="318.5" y1="775.5" x2="320.5" y2="775.5" stroke="#8c8c8c" stroke-width="0.8"/>
<text x="315.6" y="778.9" font-family='"Liberation Serif", serif' font-size="10" font-weight="bold" text-anchor="end" fill="#000" textLength="5.25" lengthAdjust="spacingAndGlyphs" stroke="#000" stroke-width="0.12" >0</text>
<line x1="318.5" y1="756.7" x2="320.5" y2="756.7" stroke="#8c8c8c" stroke-width="0.8"/>
<text x="315.6" y="760.1" font-family='"Liberation Serif", serif' font-size="10" font-weight="bold" text-anchor="end" fill="#000" textLength="10.5" lengthAdjust="spacingAndGlyphs" stroke="#000" stroke-width="0.12" >10</text>
<line x1="318.5" y1="737.9" x2="320.5" y2="737.9" stroke="#8c8c8c" stroke-width="0.8"/>
<text x="315.6" y="741.3" font-family='"Liberation Serif", serif' font-size="10" font-weight="bold" text-anchor="end" fill="#000" textLength="10.5" lengthAdjust="spacingAndGlyphs" stroke="#000" stroke-width="0.12" >20</text>
<line x1="318.5" y1="719.1" x2="320.5" y2="719.1" stroke="#8c8c8c" stroke-width="0.8"/>
<text x="315.6" y="722.5" font-family='"Liberation Serif", serif' font-size="10" font-weight="bold" text-anchor="end" fill="#000" textLength="10.5" lengthAdjust="spacingAndGlyphs" stroke="#000" stroke-width="0.12" >30</text>
<line x1="318.5" y1="700.3" x2="320.5" y2="700.3" stroke="#8c8c8c" stroke-width="0.8"/>
<text x="315.6" y="703.7" font-family='"Liberation Serif", serif' font-size="10" font-weight="bold" text-anchor="end" fill="#000" textLength="10.5" lengthAdjust="spacingAndGlyphs" stroke="#000" stroke-width="0.12" >40</text>
<line x1="318.5" y1="681.5" x2="320.5" y2="681.5" stroke="#8c8c8c" stroke-width="0.8"/>
<text x="315.6" y="684.9" font-family='"Liberation Serif", serif' font-size="10" font-weight="bold" text-anchor="end" fill="#000" textLength="10.5" lengthAdjust="spacingAndGlyphs" stroke="#000" stroke-width="0.12" >50</text>
<line x1="318.5" y1="662.7" x2="320.5" y2="662.7" stroke="#8c8c8c" stroke-width="0.8"/>
<text x="315.6" y="666.1" font-family='"Liberation Serif", serif' font-size="10" font-weight="bold" text-anchor="end" fill="#000" textLength="10.5" lengthAdjust="spacingAndGlyphs" stroke="#000" stroke-width="0.12" >60</text>
<line x1="318.5" y1="643.9" x2="320.5" y2="643.9" stroke="#8c8c8c" stroke-width="0.8"/>
<text x="315.6" y="647.3" font-family='"Liberation Serif", serif' font-size="10" font-weight="bold" text-anchor="end" fill="#000" textLength="10.5" lengthAdjust="spacingAndGlyphs" stroke="#000" stroke-width="0.12" >70</text>
<line x1="318.5" y1="625.1" x2="320.5" y2="625.1" stroke="#8c8c8c" stroke-width="0.8"/>
<text x="315.6" y="628.5" font-family='"Liberation Serif", serif' font-size="10" font-weight="bold" text-anchor="end" fill="#000" textLength="10.5" lengthAdjust="spacingAndGlyphs" stroke="#000" stroke-width="0.12" >80</text>
<rect x="330.6" y="766.1" width="12.4" height="9.4" fill="#ffffff" stroke="#111" stroke-width="0.95"/>
<path d="M336.8 764.03V768.17M334.6 764.03H339M334.6 768.17H339" stroke="#333" stroke-width="0.9" fill="none"/>
<rect x="344" y="751.81" width="12.4" height="23.69" fill="#7e7e7e" stroke="#111" stroke-width="0.95"/>
<path d="M350.2 749.74V753.88M348 749.74H352.4M348 753.88H352.4" stroke="#333" stroke-width="0.9" fill="none"/>
<defs><pattern id="pc3569" patternUnits="userSpaceOnUse" width="10.4" height="10.8" x="358.4" y="760.6"><rect width="10.4" height="10.8" fill="#fff"/><path d="M0 0L10.4 10.8M10.4 0L0 10.8" stroke="#000" stroke-width="1.1"/></pattern></defs>
<rect x="357.4" y="757.45" width="12.4" height="18.05" fill="url(#pc3569)" stroke="#111" stroke-width="0.95"/>
<path d="M363.6 755.01V759.9M361.4 755.01H365.8M361.4 759.9H365.8" stroke="#333" stroke-width="0.9" fill="none"/>
<rect x="370.8" y="764.03" width="12.4" height="11.47" fill="#d4d4d4" stroke="#111" stroke-width="0.95"/>
<path d="M377 762.9V765.16M374.8 762.9H379.2M374.8 765.16H379.2" stroke="#333" stroke-width="0.9" fill="none"/>
<rect x="384.2" y="654.99" width="12.4" height="120.51" fill="#000000" stroke="#111" stroke-width="0.95"/>
<path d="M390.4 645.97V654.99M388.2 645.97H392.6M388.2 654.99H392.6" stroke="#333" stroke-width="0.9" fill="none"/>
<rect x="397.6" y="756.51" width="12.4" height="18.99" fill="url(#pdiag)" stroke="#111" stroke-width="0.95"/>
<path d="M403.8 753.32V759.71M401.6 753.32H406M401.6 759.71H406" stroke="#333" stroke-width="0.9" fill="none"/>
<rect x="430" y="759.14" width="12.4" height="16.36" fill="#ffffff" stroke="#111" stroke-width="0.95"/>
<path d="M436.2 756.51V761.78M434 756.51H438.4M434 761.78H438.4" stroke="#333" stroke-width="0.9" fill="none"/>
<rect x="443.4" y="763.28" width="12.4" height="12.22" fill="#7e7e7e" stroke="#111" stroke-width="0.95"/>
<path d="M449.6 761.4V765.16M447.4 761.4H451.8M447.4 765.16H451.8" stroke="#333" stroke-width="0.9" fill="none"/>
<defs><pattern id="pc4563" patternUnits="userSpaceOnUse" width="10.4" height="10.8" x="457.8" y="760.6"><rect width="10.4" height="10.8" fill="#fff"/><path d="M0 0L10.4 10.8M10.4 0L0 10.8" stroke="#000" stroke-width="1.1"/></pattern></defs>
<rect x="456.8" y="755.95" width="12.4" height="19.55" fill="url(#pc4563)" stroke="#111" stroke-width="0.95"/>
<path d="M463 753.88V758.02M460.8 753.88H465.2M460.8 758.02H465.2" stroke="#333" stroke-width="0.9" fill="none"/>
<rect x="470.2" y="762.72" width="12.4" height="12.78" fill="#d4d4d4" stroke="#111" stroke-width="0.95"/>
<path d="M476.4 761.78V763.66M474.2 761.78H478.6M474.2 763.66H478.6" stroke="#333" stroke-width="0.9" fill="none"/>
<rect x="483.6" y="639.2" width="12.4" height="136.3" fill="#000000" stroke="#111" stroke-width="0.95"/>
<path d="M489.8 628.67V639.2M487.6 628.67H492M487.6 639.2H492" stroke="#333" stroke-width="0.9" fill="none"/>
<rect x="497" y="759.52" width="12.4" height="15.98" fill="url(#pdiag)" stroke="#111" stroke-width="0.95"/>
<path d="M503.2 755.95V763.09M501 755.95H505.4M501 763.09H505.4" stroke="#333" stroke-width="0.9" fill="none"/>
<rect x="336.55" y="616.35" width="7.4" height="7.9" fill="#ffffff" stroke="#111" stroke-width="0.9"/>
<text x="348.1" y="623.3" font-family='"Liberation Serif", serif' font-size="7" font-weight="bold" text-anchor="start" fill="#000" stroke="#000" stroke-width="0.18" >Control</text>
<rect x="336.55" y="628.35" width="7.4" height="7.9" fill="#7e7e7e" stroke="#111" stroke-width="0.9"/>
<text x="348.1" y="635.3" font-family='"Liberation Serif", serif' font-size="7" font-weight="bold" text-anchor="start" fill="#000" stroke="#000" stroke-width="0.18" >cAMP (200µM)</text>
<rect x="336.55" y="639.75" width="7.4" height="7.9" fill="#fff" stroke="#111" stroke-width="0.9"/>
<path d="M336.85 647.35L343.65 640.05M339.88 640.05L343.65 643.31" stroke="#000" stroke-width="1.1"/>
<text x="348.1" y="646.7" font-family='"Liberation Serif", serif' font-size="7" font-weight="bold" text-anchor="start" fill="#000" stroke="#000" stroke-width="0.18" >H89 (10µM)</text>
<rect x="402.65" y="616.35" width="7.4" height="7.9" fill="#d4d4d4" stroke="#111" stroke-width="0.9"/>
<text x="413.3" y="623.3" font-family='"Liberation Serif", serif' font-size="7" font-weight="bold" text-anchor="start" fill="#000" stroke="#000" stroke-width="0.18" >As2O3 (0.25µM)</text>
<rect x="402.65" y="628.35" width="7.4" height="7.9" fill="#000000" stroke="#111" stroke-width="0.9"/>
<text x="413.3" y="635.3" font-family='"Liberation Serif", serif' font-size="7" font-weight="bold" text-anchor="start" fill="#000" stroke="#000" stroke-width="0.18" >As2O3 + cAMP</text>
<defs><pattern id="lp4026_6397" patternUnits="userSpaceOnUse" x="402.65" y="639.75" width="4.16" height="4.16"><rect width="4.16" height="4.16" fill="#fff"/><path d="M-1 5.16L5.16 -1M-1 1L1 -1M3.16 5.16L5.16 3.16" stroke="#000" stroke-width="1.66"/></pattern></defs>
<rect x="402.65" y="639.75" width="7.4" height="7.9" fill="url(#lp4026_6397)" stroke="#111" stroke-width="0.9"/>
<text x="413.3" y="646.7" font-family='"Liberation Serif", serif' font-size="7" font-weight="bold" text-anchor="start" fill="#000" stroke="#000" stroke-width="0.18" >As2O3 + cAMP + H89</text>
<text transform="translate(294.8,692.3) rotate(-90)" x="0" y="3.32" font-family='"Liberation Serif", serif' font-size="9.5" font-weight="bold" text-anchor="middle" textLength="93.5" lengthAdjust="spacingAndGlyphs">NBT positive cells (%)</text>
<text x="365.7" y="791.5" font-family='"Liberation Serif", serif' font-size="9.6" font-weight="bold" text-anchor="middle" fill="#000" stroke="#000" stroke-width="0.12" >NB4</text>
<text x="463.5" y="791.5" font-family='"Liberation Serif", serif' font-size="9.6" font-weight="bold" text-anchor="middle" fill="#000" stroke="#000" stroke-width="0.12" >NB4-R1</text>
</svg></body></html>
